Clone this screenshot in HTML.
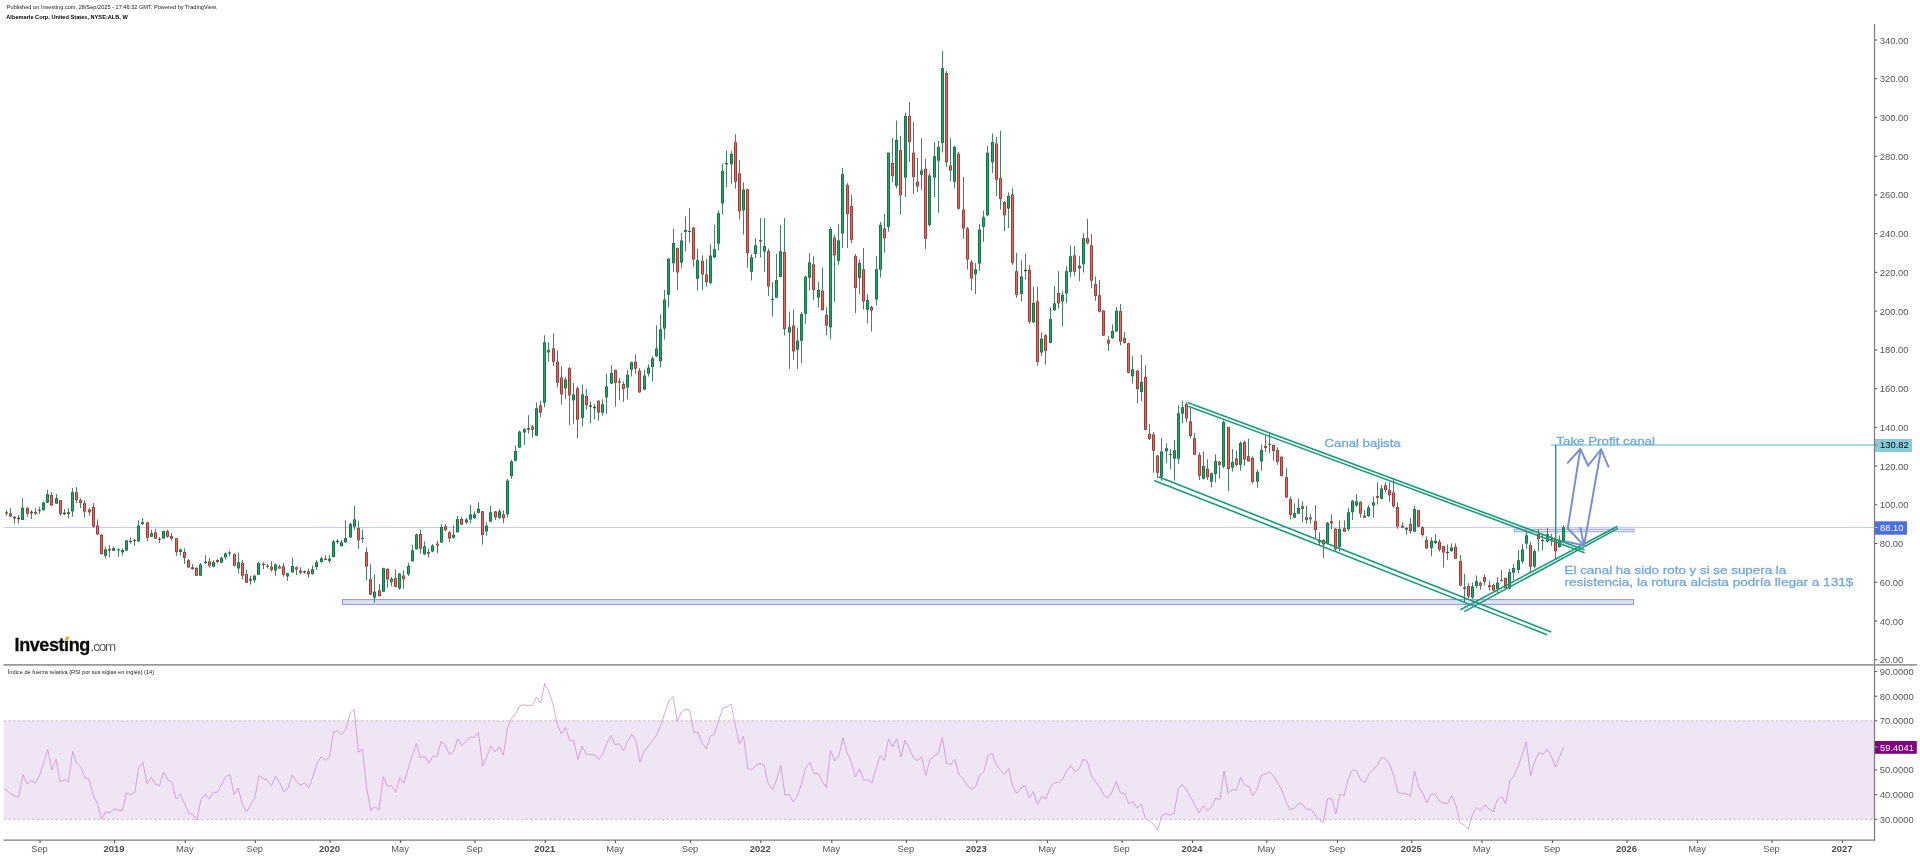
<!DOCTYPE html>
<html><head><meta charset="utf-8"><title>Chart</title>
<style>html,body{margin:0;padding:0;background:#fff;}body{width:1920px;height:858px;overflow:hidden;font-family:"Liberation Sans",sans-serif;}svg{display:block;will-change:transform;}text{font-family:"Liberation Sans",sans-serif;}</style>
</head><body>
<svg width="1920" height="858" viewBox="0 0 1920 858">
<rect x="0" y="0" width="1920" height="858" fill="#ffffff"/>
<g id="rsi-band">
<rect x="4" y="720.8" width="1870" height="98.5" fill="#f0e5f4"/>
<line x1="4" y1="720.9" x2="1874" y2="720.9" stroke="#c6b2ca" stroke-width="1" stroke-dasharray="2.2,2.5"/>
<line x1="4" y1="819.3" x2="1874" y2="819.3" stroke="#c6b2ca" stroke-width="1" stroke-dasharray="2.2,2.5"/>
</g>
<polyline id="rsiline" fill="none" stroke="#cc90cf" stroke-width="0.8" stroke-linejoin="round" points="3.8,788.8 6.3,789.8 10.4,793.7 14.6,796.2 18.7,797.2 22.9,774.6 27.0,784.0 31.2,780.2 35.3,783.2 39.4,775.8 43.6,762.6 47.7,749.6 51.9,769.9 56.0,759.1 60.1,781.6 64.3,779.9 68.4,781.7 72.6,751.7 76.7,763.1 80.9,767.0 85.0,778.4 89.1,779.2 93.3,795.8 97.4,803.5 101.6,819.3 105.7,811.9 109.8,812.8 114.0,808.9 118.1,810.1 122.3,810.7 126.4,792.8 130.6,794.7 134.7,792.6 138.8,767.2 143.0,762.6 147.1,783.9 151.3,777.4 155.4,784.1 159.5,785.7 163.7,772.0 167.8,779.8 172.0,782.3 176.1,798.9 180.3,794.2 184.4,803.5 188.5,812.8 192.7,814.3 196.8,820.2 201.0,799.2 205.1,794.4 209.2,798.9 213.4,792.5 217.5,792.1 221.7,784.2 225.8,776.5 230.0,774.8 234.1,794.4 238.2,788.1 242.4,804.7 246.5,811.9 250.7,805.0 254.8,798.2 258.9,775.9 263.1,778.8 267.2,780.1 271.4,786.1 275.5,776.4 279.7,782.5 283.8,791.8 287.9,788.7 292.1,775.0 296.2,780.6 300.4,785.6 304.5,782.7 308.7,787.8 312.8,776.9 316.9,763.7 321.1,756.7 325.2,759.9 329.4,757.6 333.5,731.6 337.6,730.8 341.8,734.6 345.9,729.1 350.1,713.4 354.2,709.2 358.4,752.4 362.5,749.2 366.6,787.7 370.8,810.7 374.9,806.7 379.1,810.0 383.2,776.8 387.3,786.1 391.5,785.7 395.6,792.4 399.8,777.9 403.9,783.1 408.1,769.2 412.2,755.4 416.3,743.6 420.5,757.8 424.6,756.0 428.8,763.2 432.9,756.3 437.0,756.3 441.2,741.3 445.3,745.0 449.5,754.7 453.6,751.5 457.8,738.9 461.9,745.5 466.0,741.3 470.2,737.2 474.3,737.2 478.5,732.5 482.6,765.9 486.7,757.2 490.9,745.8 495.0,751.8 499.2,746.7 503.3,755.0 507.5,728.0 511.6,718.2 515.7,713.5 519.9,705.8 524.0,704.8 528.2,705.6 532.3,705.6 536.5,697.0 540.6,703.1 544.7,683.5 548.9,691.4 553.0,703.9 557.2,724.0 561.3,733.9 565.4,727.3 569.6,740.5 573.7,740.0 577.9,759.6 582.0,746.0 586.2,753.8 590.3,754.8 594.4,754.8 598.6,759.6 602.7,754.0 606.9,743.0 611.0,735.6 615.1,744.7 619.3,743.7 623.4,750.8 627.6,741.6 631.7,734.4 635.9,740.8 640.0,762.3 644.1,751.1 648.3,746.2 652.4,740.7 656.6,735.1 660.7,725.3 664.8,712.9 669.0,700.4 673.1,696.6 677.3,721.6 681.4,711.9 685.6,709.1 689.7,709.9 693.8,732.1 698.0,732.5 702.1,743.1 706.3,748.6 710.4,736.4 714.5,733.7 718.7,720.3 722.8,708.3 727.0,706.4 731.1,704.1 735.3,725.2 739.4,744.2 743.5,736.1 747.7,768.4 751.8,770.2 756.0,765.0 760.1,763.3 764.2,765.6 768.4,784.3 772.5,789.5 776.7,779.4 780.8,765.5 785.0,795.2 789.1,794.3 793.2,801.9 797.4,796.4 801.5,783.5 805.7,767.7 809.8,762.2 814.0,773.5 818.1,773.5 822.2,781.7 826.4,787.6 830.5,750.5 834.7,760.8 838.8,756.0 842.9,737.8 847.1,752.9 851.2,761.9 855.4,776.9 859.5,769.0 863.7,780.3 867.8,779.7 871.9,782.9 876.1,768.7 880.2,755.5 884.4,760.2 888.5,738.8 892.6,746.9 896.8,738.8 900.9,757.0 905.1,740.1 909.2,747.9 913.4,758.0 917.5,760.7 921.6,756.7 925.8,775.5 929.9,760.0 934.1,755.7 938.2,753.6 942.3,737.5 946.5,762.8 950.6,764.7 954.8,759.5 958.9,774.4 963.1,778.8 967.2,785.5 971.3,789.5 975.5,786.8 979.6,775.4 983.8,772.0 987.9,755.7 992.0,753.2 996.2,764.3 1000.3,769.7 1004.5,774.3 1008.6,768.6 1012.8,786.3 1016.9,793.7 1021.0,787.8 1025.2,785.6 1029.3,798.1 1033.5,791.4 1037.6,804.5 1041.8,796.4 1045.9,799.1 1050.0,787.9 1054.2,782.6 1058.3,782.6 1062.5,779.4 1066.6,770.9 1070.7,765.7 1074.9,771.5 1079.0,769.2 1083.2,759.0 1087.3,761.2 1091.5,776.2 1095.6,781.8 1099.7,787.4 1103.9,795.4 1108.0,798.1 1112.2,791.5 1116.3,781.4 1120.4,792.9 1124.6,793.3 1128.7,803.6 1132.9,801.7 1137.0,808.3 1141.2,803.9 1145.3,818.6 1149.4,821.0 1153.6,824.2 1157.7,829.7 1161.9,815.7 1166.0,813.5 1170.1,815.4 1174.3,812.6 1178.4,788.4 1182.6,784.8 1186.7,790.0 1190.9,797.6 1195.0,805.2 1199.1,812.8 1203.3,805.9 1207.4,810.2 1211.6,807.2 1215.7,798.0 1219.8,799.8 1224.0,771.3 1228.1,793.3 1232.3,789.2 1236.4,790.4 1240.6,777.3 1244.7,785.4 1248.8,786.3 1253.0,795.9 1257.1,789.2 1261.3,775.5 1265.4,774.2 1269.5,771.7 1273.7,776.2 1277.8,782.7 1282.0,790.8 1286.1,801.9 1290.3,809.7 1294.4,808.2 1298.5,803.5 1302.7,804.1 1306.8,809.8 1311.0,809.3 1315.1,815.0 1319.3,820.0 1323.4,822.2 1327.5,798.7 1331.7,798.9 1335.8,813.8 1340.0,794.2 1344.1,795.8 1348.2,778.9 1352.4,770.0 1356.5,770.5 1360.7,779.8 1364.8,782.8 1369.0,773.8 1373.1,769.3 1377.2,765.3 1381.4,757.4 1385.5,759.0 1389.7,764.4 1393.8,775.7 1397.9,792.6 1402.1,793.4 1406.2,793.7 1410.4,796.3 1414.5,771.1 1418.7,786.6 1422.8,793.2 1426.9,802.7 1431.1,794.1 1435.2,794.1 1439.4,801.1 1443.5,803.1 1447.6,803.6 1451.8,795.7 1455.9,805.3 1460.1,823.0 1464.2,824.8 1468.4,829.0 1472.5,814.7 1476.6,807.5 1480.8,810.8 1484.9,805.0 1489.1,809.1 1493.2,811.9 1497.3,799.8 1501.5,796.3 1505.6,803.7 1509.8,781.1 1513.9,775.8 1518.1,766.4 1522.2,754.7 1526.3,741.8 1530.5,775.7 1534.6,762.0 1538.8,752.6 1542.9,754.6 1547.0,749.0 1551.2,755.8 1555.3,767.0 1559.5,757.0 1563.6,746.8"/>
<line x1="4" y1="527.5" x2="1874" y2="527.5" stroke="#c4ccf5" stroke-width="1"/>
<rect x="342.5" y="599.6" width="1291" height="4.8" fill="#dfe2f4" stroke="#8e99d8" stroke-width="1"/>
<rect x="1514.5" y="529.2" width="119.5" height="2.6" fill="#e6e8f7" stroke="#8e99d8" stroke-width="0.9" id="resrect"/>
<g id="candles">
<line x1="6.50" y1="510.2" x2="6.50" y2="515.8" stroke="#487f65" stroke-width="1"/>
<rect x="5.05" y="512.3" width="2.9" height="1.2" fill="#87302c"/>
<line x1="10.50" y1="508.1" x2="10.50" y2="516.6" stroke="#487f65" stroke-width="1"/>
<rect x="9.05" y="513.3" width="2.9" height="3.3" fill="#87302c"/>
<rect x="9.90" y="513.8" width="1.3" height="2.3" fill="#e8665b"/>
<line x1="14.50" y1="516.1" x2="14.50" y2="523.6" stroke="#487f65" stroke-width="1"/>
<rect x="13.05" y="516.8" width="2.9" height="1.6" fill="#87302c"/>
<line x1="18.50" y1="515.2" x2="18.50" y2="523.6" stroke="#487f65" stroke-width="1"/>
<rect x="17.05" y="517.7" width="2.9" height="1.5" fill="#87302c"/>
<line x1="22.50" y1="498.3" x2="22.50" y2="519.8" stroke="#487f65" stroke-width="1"/>
<rect x="21.05" y="507.7" width="2.9" height="12.2" fill="#0b663b"/>
<rect x="21.90" y="508.2" width="1.3" height="11.2" fill="#1fa565"/>
<line x1="27.50" y1="507.2" x2="27.50" y2="516.7" stroke="#487f65" stroke-width="1"/>
<rect x="26.05" y="508.1" width="2.9" height="5.6" fill="#87302c"/>
<rect x="26.90" y="508.6" width="1.3" height="4.6" fill="#e8665b"/>
<line x1="31.50" y1="510.2" x2="31.50" y2="518.9" stroke="#487f65" stroke-width="1"/>
<rect x="30.05" y="511.7" width="2.9" height="1.6" fill="#0b663b"/>
<line x1="35.50" y1="508.1" x2="35.50" y2="514.9" stroke="#487f65" stroke-width="1"/>
<rect x="34.05" y="511.9" width="2.9" height="1.7" fill="#87302c"/>
<rect x="34.90" y="512.4" width="1.3" height="0.7" fill="#e8665b"/>
<line x1="39.50" y1="507.2" x2="39.50" y2="514.2" stroke="#487f65" stroke-width="1"/>
<rect x="38.05" y="509.8" width="2.9" height="1.0" fill="#0b663b"/>
<line x1="43.50" y1="501.6" x2="43.50" y2="510.7" stroke="#487f65" stroke-width="1"/>
<rect x="42.05" y="502.5" width="2.9" height="7.5" fill="#0b663b"/>
<rect x="42.90" y="503.0" width="1.3" height="6.5" fill="#1fa565"/>
<line x1="47.50" y1="489.6" x2="47.50" y2="503.0" stroke="#487f65" stroke-width="1"/>
<rect x="46.05" y="494.1" width="2.9" height="8.6" fill="#0b663b"/>
<rect x="46.90" y="494.6" width="1.3" height="7.6" fill="#1fa565"/>
<line x1="51.50" y1="492.2" x2="51.50" y2="505.8" stroke="#487f65" stroke-width="1"/>
<rect x="50.05" y="495.0" width="2.9" height="10.5" fill="#87302c"/>
<rect x="50.90" y="495.5" width="1.3" height="9.5" fill="#e8665b"/>
<line x1="56.50" y1="494.1" x2="56.50" y2="503.9" stroke="#487f65" stroke-width="1"/>
<rect x="55.05" y="498.3" width="2.9" height="5.3" fill="#0b663b"/>
<rect x="55.90" y="498.8" width="1.3" height="4.3" fill="#1fa565"/>
<line x1="60.50" y1="500.2" x2="60.50" y2="515.8" stroke="#487f65" stroke-width="1"/>
<rect x="59.05" y="500.2" width="2.9" height="13.6" fill="#87302c"/>
<rect x="59.90" y="500.7" width="1.3" height="12.6" fill="#e8665b"/>
<line x1="64.50" y1="509.2" x2="64.50" y2="514.9" stroke="#487f65" stroke-width="1"/>
<rect x="63.05" y="512.6" width="2.9" height="1.6" fill="#0b663b"/>
<line x1="68.50" y1="508.3" x2="68.50" y2="518.4" stroke="#487f65" stroke-width="1"/>
<rect x="67.05" y="512.1" width="2.9" height="1.9" fill="#87302c"/>
<rect x="67.90" y="512.6" width="1.3" height="0.9" fill="#e8665b"/>
<line x1="72.50" y1="488.0" x2="72.50" y2="516.7" stroke="#487f65" stroke-width="1"/>
<rect x="71.05" y="492.2" width="2.9" height="19.2" fill="#0b663b"/>
<rect x="71.90" y="492.7" width="1.3" height="18.2" fill="#1fa565"/>
<line x1="76.50" y1="487.0" x2="76.50" y2="503.0" stroke="#487f65" stroke-width="1"/>
<rect x="75.05" y="492.2" width="2.9" height="8.0" fill="#87302c"/>
<rect x="75.90" y="492.7" width="1.3" height="7.0" fill="#e8665b"/>
<line x1="80.50" y1="498.3" x2="80.50" y2="508.1" stroke="#487f65" stroke-width="1"/>
<rect x="79.05" y="500.2" width="2.9" height="2.8" fill="#87302c"/>
<rect x="79.90" y="500.7" width="1.3" height="1.8" fill="#e8665b"/>
<line x1="84.50" y1="500.2" x2="84.50" y2="517.5" stroke="#487f65" stroke-width="1"/>
<rect x="83.05" y="503.2" width="2.9" height="8.4" fill="#87302c"/>
<rect x="83.90" y="503.7" width="1.3" height="7.4" fill="#e8665b"/>
<line x1="89.50" y1="508.1" x2="89.50" y2="515.6" stroke="#487f65" stroke-width="1"/>
<rect x="88.05" y="509.5" width="2.9" height="2.8" fill="#87302c"/>
<rect x="88.90" y="510.0" width="1.3" height="1.8" fill="#e8665b"/>
<line x1="93.50" y1="503.0" x2="93.50" y2="527.8" stroke="#487f65" stroke-width="1"/>
<rect x="92.05" y="507.0" width="2.9" height="19.6" fill="#87302c"/>
<rect x="92.90" y="507.5" width="1.3" height="18.6" fill="#e8665b"/>
<line x1="97.50" y1="519.4" x2="97.50" y2="535.1" stroke="#487f65" stroke-width="1"/>
<rect x="96.05" y="525.5" width="2.9" height="8.9" fill="#87302c"/>
<rect x="96.90" y="526.0" width="1.3" height="7.9" fill="#e8665b"/>
<line x1="101.50" y1="534.2" x2="101.50" y2="554.5" stroke="#487f65" stroke-width="1"/>
<rect x="100.05" y="534.8" width="2.9" height="19.2" fill="#87302c"/>
<rect x="100.90" y="535.3" width="1.3" height="18.2" fill="#e8665b"/>
<line x1="105.50" y1="546.6" x2="105.50" y2="558.3" stroke="#487f65" stroke-width="1"/>
<rect x="104.05" y="549.4" width="2.9" height="6.4" fill="#0b663b"/>
<rect x="104.90" y="549.9" width="1.3" height="5.4" fill="#1fa565"/>
<line x1="109.50" y1="545.2" x2="109.50" y2="557.6" stroke="#487f65" stroke-width="1"/>
<rect x="108.05" y="549.2" width="2.9" height="1.3" fill="#87302c"/>
<line x1="113.50" y1="546.4" x2="113.50" y2="551.2" stroke="#487f65" stroke-width="1"/>
<rect x="112.05" y="548.2" width="2.9" height="2.5" fill="#0b663b"/>
<rect x="112.90" y="548.7" width="1.3" height="1.5" fill="#1fa565"/>
<line x1="118.50" y1="548.2" x2="118.50" y2="556.9" stroke="#487f65" stroke-width="1"/>
<rect x="117.05" y="549.4" width="2.9" height="1.0" fill="#0b663b"/>
<line x1="122.50" y1="548.2" x2="122.50" y2="555.7" stroke="#487f65" stroke-width="1"/>
<rect x="121.05" y="550.1" width="2.9" height="2.2" fill="#0b663b"/>
<rect x="121.90" y="550.6" width="1.3" height="1.2" fill="#1fa565"/>
<line x1="126.50" y1="539.8" x2="126.50" y2="550.8" stroke="#487f65" stroke-width="1"/>
<rect x="125.05" y="540.5" width="2.9" height="10.0" fill="#0b663b"/>
<rect x="125.90" y="541.0" width="1.3" height="9.0" fill="#1fa565"/>
<line x1="130.50" y1="537.2" x2="130.50" y2="543.7" stroke="#487f65" stroke-width="1"/>
<rect x="129.05" y="540.9" width="2.9" height="1.1" fill="#87302c"/>
<line x1="134.50" y1="538.9" x2="134.50" y2="545.6" stroke="#487f65" stroke-width="1"/>
<rect x="133.05" y="539.8" width="2.9" height="1.1" fill="#87302c"/>
<line x1="138.50" y1="520.3" x2="138.50" y2="542.1" stroke="#487f65" stroke-width="1"/>
<rect x="137.05" y="525.5" width="2.9" height="15.9" fill="#0b663b"/>
<rect x="137.90" y="526.0" width="1.3" height="14.9" fill="#1fa565"/>
<line x1="142.50" y1="518.0" x2="142.50" y2="524.8" stroke="#487f65" stroke-width="1"/>
<rect x="141.05" y="522.2" width="2.9" height="1.9" fill="#0b663b"/>
<rect x="141.90" y="522.7" width="1.3" height="0.9" fill="#1fa565"/>
<line x1="147.50" y1="522.0" x2="147.50" y2="541.4" stroke="#487f65" stroke-width="1"/>
<rect x="146.05" y="522.4" width="2.9" height="15.3" fill="#87302c"/>
<rect x="146.90" y="522.9" width="1.3" height="14.3" fill="#e8665b"/>
<line x1="151.50" y1="529.7" x2="151.50" y2="537.2" stroke="#487f65" stroke-width="1"/>
<rect x="150.05" y="533.2" width="2.9" height="3.5" fill="#0b663b"/>
<rect x="150.90" y="533.7" width="1.3" height="2.5" fill="#1fa565"/>
<line x1="155.50" y1="528.9" x2="155.50" y2="538.9" stroke="#487f65" stroke-width="1"/>
<rect x="154.05" y="532.5" width="2.9" height="6.1" fill="#87302c"/>
<rect x="154.90" y="533.0" width="1.3" height="5.1" fill="#e8665b"/>
<line x1="159.50" y1="537.0" x2="159.50" y2="543.0" stroke="#487f65" stroke-width="1"/>
<rect x="158.05" y="538.8" width="2.9" height="1.0" fill="#87302c"/>
<line x1="163.50" y1="530.6" x2="163.50" y2="538.9" stroke="#487f65" stroke-width="1"/>
<rect x="162.05" y="531.1" width="2.9" height="7.5" fill="#0b663b"/>
<rect x="162.90" y="531.6" width="1.3" height="6.5" fill="#1fa565"/>
<line x1="167.50" y1="529.7" x2="167.50" y2="537.7" stroke="#487f65" stroke-width="1"/>
<rect x="166.05" y="531.1" width="2.9" height="5.6" fill="#87302c"/>
<rect x="166.90" y="531.6" width="1.3" height="4.6" fill="#e8665b"/>
<line x1="171.50" y1="533.0" x2="171.50" y2="540.7" stroke="#487f65" stroke-width="1"/>
<rect x="170.05" y="536.1" width="2.9" height="2.5" fill="#87302c"/>
<rect x="170.90" y="536.6" width="1.3" height="1.5" fill="#e8665b"/>
<line x1="176.50" y1="537.9" x2="176.50" y2="555.7" stroke="#487f65" stroke-width="1"/>
<rect x="175.05" y="538.3" width="2.9" height="13.9" fill="#87302c"/>
<rect x="175.90" y="538.8" width="1.3" height="12.9" fill="#e8665b"/>
<line x1="180.50" y1="548.6" x2="180.50" y2="555.3" stroke="#487f65" stroke-width="1"/>
<rect x="179.05" y="549.5" width="2.9" height="2.5" fill="#0b663b"/>
<rect x="179.90" y="550.0" width="1.3" height="1.5" fill="#1fa565"/>
<line x1="184.50" y1="548.3" x2="184.50" y2="563.9" stroke="#487f65" stroke-width="1"/>
<rect x="183.05" y="552.0" width="2.9" height="5.9" fill="#87302c"/>
<rect x="183.90" y="552.5" width="1.3" height="4.9" fill="#e8665b"/>
<line x1="188.50" y1="559.2" x2="188.50" y2="567.7" stroke="#487f65" stroke-width="1"/>
<rect x="187.05" y="560.2" width="2.9" height="7.3" fill="#87302c"/>
<rect x="187.90" y="560.7" width="1.3" height="6.3" fill="#e8665b"/>
<line x1="192.50" y1="563.9" x2="192.50" y2="569.8" stroke="#487f65" stroke-width="1"/>
<rect x="191.05" y="567.3" width="2.9" height="1.9" fill="#87302c"/>
<rect x="191.90" y="567.8" width="1.3" height="0.9" fill="#e8665b"/>
<line x1="196.50" y1="567.0" x2="196.50" y2="575.9" stroke="#487f65" stroke-width="1"/>
<rect x="195.05" y="568.0" width="2.9" height="7.8" fill="#87302c"/>
<rect x="195.90" y="568.5" width="1.3" height="6.8" fill="#e8665b"/>
<line x1="200.50" y1="563.0" x2="200.50" y2="575.9" stroke="#487f65" stroke-width="1"/>
<rect x="199.05" y="564.5" width="2.9" height="11.2" fill="#0b663b"/>
<rect x="199.90" y="565.0" width="1.3" height="10.2" fill="#1fa565"/>
<line x1="205.50" y1="555.1" x2="205.50" y2="563.6" stroke="#487f65" stroke-width="1"/>
<rect x="204.05" y="561.7" width="2.9" height="1.6" fill="#0b663b"/>
<line x1="209.50" y1="557.7" x2="209.50" y2="567.5" stroke="#487f65" stroke-width="1"/>
<rect x="208.05" y="561.4" width="2.9" height="4.2" fill="#87302c"/>
<rect x="208.90" y="561.9" width="1.3" height="3.2" fill="#e8665b"/>
<line x1="213.50" y1="560.2" x2="213.50" y2="566.7" stroke="#487f65" stroke-width="1"/>
<rect x="212.05" y="562.1" width="2.9" height="4.5" fill="#0b663b"/>
<rect x="212.90" y="562.6" width="1.3" height="3.5" fill="#1fa565"/>
<line x1="217.50" y1="559.1" x2="217.50" y2="563.3" stroke="#487f65" stroke-width="1"/>
<rect x="216.05" y="560.0" width="2.9" height="1.9" fill="#87302c"/>
<rect x="216.90" y="560.5" width="1.3" height="0.9" fill="#e8665b"/>
<line x1="221.50" y1="556.7" x2="221.50" y2="563.3" stroke="#487f65" stroke-width="1"/>
<rect x="220.05" y="557.7" width="2.9" height="5.0" fill="#0b663b"/>
<rect x="220.90" y="558.2" width="1.3" height="4.0" fill="#1fa565"/>
<line x1="225.50" y1="552.5" x2="225.50" y2="559.5" stroke="#487f65" stroke-width="1"/>
<rect x="224.05" y="553.4" width="2.9" height="3.9" fill="#0b663b"/>
<rect x="224.90" y="553.9" width="1.3" height="2.9" fill="#1fa565"/>
<line x1="229.50" y1="550.8" x2="229.50" y2="556.4" stroke="#487f65" stroke-width="1"/>
<rect x="228.05" y="552.5" width="2.9" height="1.0" fill="#0b663b"/>
<line x1="234.50" y1="553.2" x2="234.50" y2="566.6" stroke="#487f65" stroke-width="1"/>
<rect x="233.05" y="554.2" width="2.9" height="11.4" fill="#87302c"/>
<rect x="233.90" y="554.7" width="1.3" height="10.4" fill="#e8665b"/>
<line x1="238.50" y1="552.5" x2="238.50" y2="573.6" stroke="#487f65" stroke-width="1"/>
<rect x="237.05" y="562.3" width="2.9" height="6.1" fill="#0b663b"/>
<rect x="237.90" y="562.8" width="1.3" height="5.1" fill="#1fa565"/>
<line x1="242.50" y1="560.2" x2="242.50" y2="579.5" stroke="#487f65" stroke-width="1"/>
<rect x="241.05" y="562.8" width="2.9" height="12.9" fill="#87302c"/>
<rect x="241.90" y="563.3" width="1.3" height="11.9" fill="#e8665b"/>
<line x1="246.50" y1="569.4" x2="246.50" y2="583.0" stroke="#487f65" stroke-width="1"/>
<rect x="245.05" y="574.1" width="2.9" height="8.6" fill="#87302c"/>
<rect x="245.90" y="574.6" width="1.3" height="7.6" fill="#e8665b"/>
<line x1="250.50" y1="575.7" x2="250.50" y2="584.6" stroke="#487f65" stroke-width="1"/>
<rect x="249.05" y="579.2" width="2.9" height="1.4" fill="#0b663b"/>
<line x1="254.50" y1="574.8" x2="254.50" y2="582.7" stroke="#487f65" stroke-width="1"/>
<rect x="253.05" y="575.7" width="2.9" height="4.4" fill="#0b663b"/>
<rect x="253.90" y="576.2" width="1.3" height="3.4" fill="#1fa565"/>
<line x1="258.50" y1="562.1" x2="258.50" y2="575.2" stroke="#487f65" stroke-width="1"/>
<rect x="257.05" y="562.8" width="2.9" height="12.0" fill="#0b663b"/>
<rect x="257.90" y="563.3" width="1.3" height="11.0" fill="#1fa565"/>
<line x1="263.50" y1="562.1" x2="263.50" y2="569.2" stroke="#487f65" stroke-width="1"/>
<rect x="262.05" y="564.0" width="2.9" height="1.0" fill="#87302c"/>
<line x1="267.50" y1="563.7" x2="267.50" y2="568.4" stroke="#487f65" stroke-width="1"/>
<rect x="266.05" y="565.7" width="2.9" height="1.0" fill="#0b663b"/>
<line x1="271.50" y1="561.1" x2="271.50" y2="571.7" stroke="#487f65" stroke-width="1"/>
<rect x="270.05" y="566.6" width="2.9" height="3.3" fill="#87302c"/>
<rect x="270.90" y="567.1" width="1.3" height="2.3" fill="#e8665b"/>
<line x1="275.50" y1="563.6" x2="275.50" y2="575.7" stroke="#487f65" stroke-width="1"/>
<rect x="274.05" y="564.5" width="2.9" height="6.0" fill="#0b663b"/>
<rect x="274.90" y="565.0" width="1.3" height="5.0" fill="#1fa565"/>
<line x1="279.50" y1="564.7" x2="279.50" y2="568.6" stroke="#487f65" stroke-width="1"/>
<rect x="278.05" y="566.6" width="2.9" height="1.9" fill="#87302c"/>
<rect x="278.90" y="567.1" width="1.3" height="0.9" fill="#e8665b"/>
<line x1="283.50" y1="563.0" x2="283.50" y2="576.7" stroke="#487f65" stroke-width="1"/>
<rect x="282.05" y="566.4" width="2.9" height="8.4" fill="#87302c"/>
<rect x="282.90" y="566.9" width="1.3" height="7.4" fill="#e8665b"/>
<line x1="287.50" y1="572.7" x2="287.50" y2="580.8" stroke="#487f65" stroke-width="1"/>
<rect x="286.05" y="573.3" width="2.9" height="3.1" fill="#0b663b"/>
<rect x="286.90" y="573.8" width="1.3" height="2.1" fill="#1fa565"/>
<line x1="292.50" y1="557.7" x2="292.50" y2="572.7" stroke="#487f65" stroke-width="1"/>
<rect x="291.05" y="566.1" width="2.9" height="6.3" fill="#0b663b"/>
<rect x="291.90" y="566.6" width="1.3" height="5.3" fill="#1fa565"/>
<line x1="296.50" y1="566.4" x2="296.50" y2="575.0" stroke="#487f65" stroke-width="1"/>
<rect x="295.05" y="567.3" width="2.9" height="2.2" fill="#87302c"/>
<rect x="295.90" y="567.8" width="1.3" height="1.2" fill="#e8665b"/>
<line x1="300.50" y1="567.3" x2="300.50" y2="574.2" stroke="#487f65" stroke-width="1"/>
<rect x="299.05" y="570.5" width="2.9" height="2.2" fill="#87302c"/>
<rect x="299.90" y="571.0" width="1.3" height="1.2" fill="#e8665b"/>
<line x1="304.50" y1="570.5" x2="304.50" y2="573.6" stroke="#487f65" stroke-width="1"/>
<rect x="303.05" y="571.2" width="2.9" height="1.4" fill="#0b663b"/>
<line x1="308.50" y1="568.6" x2="308.50" y2="577.6" stroke="#487f65" stroke-width="1"/>
<rect x="307.05" y="571.4" width="2.9" height="2.8" fill="#87302c"/>
<rect x="307.90" y="571.9" width="1.3" height="1.8" fill="#e8665b"/>
<line x1="312.50" y1="565.4" x2="312.50" y2="574.5" stroke="#487f65" stroke-width="1"/>
<rect x="311.05" y="569.2" width="2.9" height="4.9" fill="#0b663b"/>
<rect x="311.90" y="569.7" width="1.3" height="3.9" fill="#1fa565"/>
<line x1="316.50" y1="560.2" x2="316.50" y2="569.8" stroke="#487f65" stroke-width="1"/>
<rect x="315.05" y="562.3" width="2.9" height="4.7" fill="#0b663b"/>
<rect x="315.90" y="562.8" width="1.3" height="3.7" fill="#1fa565"/>
<line x1="321.50" y1="556.7" x2="321.50" y2="562.6" stroke="#487f65" stroke-width="1"/>
<rect x="320.05" y="558.3" width="2.9" height="3.7" fill="#0b663b"/>
<rect x="320.90" y="558.8" width="1.3" height="2.7" fill="#1fa565"/>
<line x1="325.50" y1="555.3" x2="325.50" y2="560.0" stroke="#487f65" stroke-width="1"/>
<rect x="324.05" y="558.6" width="2.9" height="1.2" fill="#87302c"/>
<line x1="329.50" y1="555.3" x2="329.50" y2="563.0" stroke="#487f65" stroke-width="1"/>
<rect x="328.05" y="558.6" width="2.9" height="2.2" fill="#0b663b"/>
<rect x="328.90" y="559.1" width="1.3" height="1.2" fill="#1fa565"/>
<line x1="333.50" y1="539.8" x2="333.50" y2="557.4" stroke="#487f65" stroke-width="1"/>
<rect x="332.05" y="541.4" width="2.9" height="15.7" fill="#0b663b"/>
<rect x="332.90" y="541.9" width="1.3" height="14.7" fill="#1fa565"/>
<line x1="337.50" y1="539.1" x2="337.50" y2="543.6" stroke="#487f65" stroke-width="1"/>
<rect x="336.05" y="540.8" width="2.9" height="1.3" fill="#0b663b"/>
<line x1="341.50" y1="540.0" x2="341.50" y2="546.4" stroke="#487f65" stroke-width="1"/>
<rect x="340.05" y="542.3" width="2.9" height="3.8" fill="#0b663b"/>
<rect x="340.90" y="542.8" width="1.3" height="2.8" fill="#1fa565"/>
<line x1="345.50" y1="520.3" x2="345.50" y2="542.9" stroke="#487f65" stroke-width="1"/>
<rect x="344.05" y="538.2" width="2.9" height="4.1" fill="#0b663b"/>
<rect x="344.90" y="538.7" width="1.3" height="3.1" fill="#1fa565"/>
<line x1="350.50" y1="522.8" x2="350.50" y2="537.8" stroke="#487f65" stroke-width="1"/>
<rect x="349.05" y="524.1" width="2.9" height="13.3" fill="#0b663b"/>
<rect x="349.90" y="524.6" width="1.3" height="12.3" fill="#1fa565"/>
<line x1="354.50" y1="505.8" x2="354.50" y2="530.1" stroke="#487f65" stroke-width="1"/>
<rect x="353.05" y="519.5" width="2.9" height="7.2" fill="#0b663b"/>
<rect x="353.90" y="520.0" width="1.3" height="6.2" fill="#1fa565"/>
<line x1="358.50" y1="521.2" x2="358.50" y2="548.7" stroke="#487f65" stroke-width="1"/>
<rect x="357.05" y="527.9" width="2.9" height="12.4" fill="#87302c"/>
<rect x="357.90" y="528.4" width="1.3" height="11.4" fill="#e8665b"/>
<line x1="362.50" y1="529.7" x2="362.50" y2="542.9" stroke="#487f65" stroke-width="1"/>
<rect x="361.05" y="537.8" width="2.9" height="1.0" fill="#0b663b"/>
<line x1="366.50" y1="547.4" x2="366.50" y2="580.5" stroke="#487f65" stroke-width="1"/>
<rect x="365.05" y="551.9" width="2.9" height="14.7" fill="#87302c"/>
<rect x="365.90" y="552.4" width="1.3" height="13.7" fill="#e8665b"/>
<line x1="370.50" y1="564.4" x2="370.50" y2="594.9" stroke="#487f65" stroke-width="1"/>
<rect x="369.05" y="579.2" width="2.9" height="15.4" fill="#87302c"/>
<rect x="369.90" y="579.7" width="1.3" height="14.4" fill="#e8665b"/>
<line x1="374.50" y1="574.4" x2="374.50" y2="602.8" stroke="#487f65" stroke-width="1"/>
<rect x="373.05" y="591.7" width="2.9" height="5.8" fill="#0b663b"/>
<rect x="373.90" y="592.2" width="1.3" height="4.8" fill="#1fa565"/>
<line x1="379.50" y1="584.0" x2="379.50" y2="596.4" stroke="#487f65" stroke-width="1"/>
<rect x="378.05" y="590.4" width="2.9" height="5.8" fill="#87302c"/>
<rect x="378.90" y="590.9" width="1.3" height="4.8" fill="#e8665b"/>
<line x1="383.50" y1="567.7" x2="383.50" y2="592.1" stroke="#487f65" stroke-width="1"/>
<rect x="382.05" y="568.2" width="2.9" height="23.5" fill="#0b663b"/>
<rect x="382.90" y="568.7" width="1.3" height="22.5" fill="#1fa565"/>
<line x1="387.50" y1="567.9" x2="387.50" y2="587.8" stroke="#487f65" stroke-width="1"/>
<rect x="386.05" y="569.0" width="2.9" height="10.3" fill="#87302c"/>
<rect x="386.90" y="569.5" width="1.3" height="9.3" fill="#e8665b"/>
<line x1="391.50" y1="576.9" x2="391.50" y2="586.2" stroke="#487f65" stroke-width="1"/>
<rect x="390.05" y="578.8" width="2.9" height="3.2" fill="#0b663b"/>
<rect x="390.90" y="579.3" width="1.3" height="2.2" fill="#1fa565"/>
<line x1="395.50" y1="569.5" x2="395.50" y2="587.2" stroke="#487f65" stroke-width="1"/>
<rect x="394.05" y="578.2" width="2.9" height="8.7" fill="#87302c"/>
<rect x="394.90" y="578.7" width="1.3" height="7.7" fill="#e8665b"/>
<line x1="399.50" y1="572.8" x2="399.50" y2="589.7" stroke="#487f65" stroke-width="1"/>
<rect x="398.05" y="573.7" width="2.9" height="14.7" fill="#0b663b"/>
<rect x="398.90" y="574.2" width="1.3" height="13.7" fill="#1fa565"/>
<line x1="403.50" y1="570.3" x2="403.50" y2="588.7" stroke="#487f65" stroke-width="1"/>
<rect x="402.05" y="575.6" width="2.9" height="3.8" fill="#87302c"/>
<rect x="402.90" y="576.1" width="1.3" height="2.8" fill="#e8665b"/>
<line x1="408.50" y1="562.8" x2="408.50" y2="575.9" stroke="#487f65" stroke-width="1"/>
<rect x="407.05" y="566.0" width="2.9" height="8.3" fill="#0b663b"/>
<rect x="407.90" y="566.5" width="1.3" height="7.3" fill="#1fa565"/>
<line x1="412.50" y1="544.9" x2="412.50" y2="561.5" stroke="#487f65" stroke-width="1"/>
<rect x="411.05" y="550.3" width="2.9" height="11.0" fill="#0b663b"/>
<rect x="411.90" y="550.8" width="1.3" height="10.0" fill="#1fa565"/>
<line x1="416.50" y1="533.6" x2="416.50" y2="549.7" stroke="#487f65" stroke-width="1"/>
<rect x="415.05" y="534.6" width="2.9" height="14.7" fill="#0b663b"/>
<rect x="415.90" y="535.1" width="1.3" height="13.7" fill="#1fa565"/>
<line x1="420.50" y1="529.7" x2="420.50" y2="553.8" stroke="#487f65" stroke-width="1"/>
<rect x="419.05" y="534.0" width="2.9" height="14.7" fill="#87302c"/>
<rect x="419.90" y="534.5" width="1.3" height="13.7" fill="#e8665b"/>
<line x1="424.50" y1="541.3" x2="424.50" y2="554.9" stroke="#487f65" stroke-width="1"/>
<rect x="423.05" y="546.4" width="2.9" height="8.1" fill="#0b663b"/>
<rect x="423.90" y="546.9" width="1.3" height="7.1" fill="#1fa565"/>
<line x1="428.50" y1="548.5" x2="428.50" y2="557.7" stroke="#487f65" stroke-width="1"/>
<rect x="427.05" y="551.9" width="2.9" height="1.7" fill="#87302c"/>
<rect x="427.90" y="552.4" width="1.3" height="0.7" fill="#e8665b"/>
<line x1="432.50" y1="544.2" x2="432.50" y2="552.3" stroke="#487f65" stroke-width="1"/>
<rect x="431.05" y="545.5" width="2.9" height="6.0" fill="#0b663b"/>
<rect x="431.90" y="546.0" width="1.3" height="5.0" fill="#1fa565"/>
<line x1="437.50" y1="540.8" x2="437.50" y2="553.2" stroke="#487f65" stroke-width="1"/>
<rect x="436.05" y="543.6" width="2.9" height="1.9" fill="#87302c"/>
<rect x="436.90" y="544.1" width="1.3" height="0.9" fill="#e8665b"/>
<line x1="441.50" y1="524.1" x2="441.50" y2="542.9" stroke="#487f65" stroke-width="1"/>
<rect x="440.05" y="526.9" width="2.9" height="15.6" fill="#0b663b"/>
<rect x="440.90" y="527.4" width="1.3" height="14.6" fill="#1fa565"/>
<line x1="445.50" y1="524.1" x2="445.50" y2="531.0" stroke="#487f65" stroke-width="1"/>
<rect x="444.05" y="526.3" width="2.9" height="3.8" fill="#87302c"/>
<rect x="444.90" y="526.8" width="1.3" height="2.8" fill="#e8665b"/>
<line x1="449.50" y1="531.0" x2="449.50" y2="542.1" stroke="#487f65" stroke-width="1"/>
<rect x="448.05" y="532.3" width="2.9" height="6.2" fill="#87302c"/>
<rect x="448.90" y="532.8" width="1.3" height="5.2" fill="#e8665b"/>
<line x1="453.50" y1="525.4" x2="453.50" y2="538.5" stroke="#487f65" stroke-width="1"/>
<rect x="452.05" y="534.9" width="2.9" height="2.9" fill="#0b663b"/>
<rect x="452.90" y="535.4" width="1.3" height="1.9" fill="#1fa565"/>
<line x1="457.50" y1="516.0" x2="457.50" y2="532.7" stroke="#487f65" stroke-width="1"/>
<rect x="456.05" y="519.2" width="2.9" height="13.1" fill="#0b663b"/>
<rect x="456.90" y="519.7" width="1.3" height="12.1" fill="#1fa565"/>
<line x1="461.50" y1="516.7" x2="461.50" y2="525.0" stroke="#487f65" stroke-width="1"/>
<rect x="460.05" y="519.0" width="2.9" height="5.6" fill="#87302c"/>
<rect x="460.90" y="519.5" width="1.3" height="4.6" fill="#e8665b"/>
<line x1="466.50" y1="518.2" x2="466.50" y2="524.1" stroke="#487f65" stroke-width="1"/>
<rect x="465.05" y="519.5" width="2.9" height="2.9" fill="#0b663b"/>
<rect x="465.90" y="520.0" width="1.3" height="1.9" fill="#1fa565"/>
<line x1="470.50" y1="505.1" x2="470.50" y2="523.3" stroke="#487f65" stroke-width="1"/>
<rect x="469.05" y="514.4" width="2.9" height="5.1" fill="#0b663b"/>
<rect x="469.90" y="514.9" width="1.3" height="4.1" fill="#1fa565"/>
<line x1="474.50" y1="511.3" x2="474.50" y2="519.2" stroke="#487f65" stroke-width="1"/>
<rect x="473.05" y="514.4" width="2.9" height="3.6" fill="#0b663b"/>
<rect x="473.90" y="514.9" width="1.3" height="2.6" fill="#1fa565"/>
<line x1="478.50" y1="502.3" x2="478.50" y2="513.1" stroke="#487f65" stroke-width="1"/>
<rect x="477.05" y="508.7" width="2.9" height="4.1" fill="#0b663b"/>
<rect x="477.90" y="509.2" width="1.3" height="3.1" fill="#1fa565"/>
<line x1="482.50" y1="510.9" x2="482.50" y2="544.6" stroke="#487f65" stroke-width="1"/>
<rect x="481.05" y="511.3" width="2.9" height="23.6" fill="#87302c"/>
<rect x="481.90" y="511.8" width="1.3" height="22.6" fill="#e8665b"/>
<line x1="486.50" y1="522.1" x2="486.50" y2="535.3" stroke="#487f65" stroke-width="1"/>
<rect x="485.05" y="525.6" width="2.9" height="5.8" fill="#0b663b"/>
<rect x="485.90" y="526.1" width="1.3" height="4.8" fill="#1fa565"/>
<line x1="490.50" y1="505.8" x2="490.50" y2="521.8" stroke="#487f65" stroke-width="1"/>
<rect x="489.05" y="512.2" width="2.9" height="9.4" fill="#0b663b"/>
<rect x="489.90" y="512.7" width="1.3" height="8.4" fill="#1fa565"/>
<line x1="495.50" y1="510.9" x2="495.50" y2="519.9" stroke="#487f65" stroke-width="1"/>
<rect x="494.05" y="511.5" width="2.9" height="5.8" fill="#87302c"/>
<rect x="494.90" y="512.0" width="1.3" height="4.8" fill="#e8665b"/>
<line x1="499.50" y1="509.0" x2="499.50" y2="519.2" stroke="#487f65" stroke-width="1"/>
<rect x="498.05" y="511.3" width="2.9" height="6.4" fill="#0b663b"/>
<rect x="498.90" y="511.8" width="1.3" height="5.4" fill="#1fa565"/>
<line x1="503.50" y1="510.3" x2="503.50" y2="523.3" stroke="#487f65" stroke-width="1"/>
<rect x="502.05" y="514.4" width="2.9" height="3.8" fill="#87302c"/>
<rect x="502.90" y="514.9" width="1.3" height="2.8" fill="#e8665b"/>
<line x1="507.50" y1="478.7" x2="507.50" y2="517.7" stroke="#487f65" stroke-width="1"/>
<rect x="506.05" y="480.6" width="2.9" height="33.8" fill="#0b663b"/>
<rect x="506.90" y="481.1" width="1.3" height="32.8" fill="#1fa565"/>
<line x1="511.50" y1="459.8" x2="511.50" y2="478.6" stroke="#487f65" stroke-width="1"/>
<rect x="510.05" y="461.4" width="2.9" height="14.7" fill="#0b663b"/>
<rect x="510.90" y="461.9" width="1.3" height="13.7" fill="#1fa565"/>
<line x1="515.50" y1="445.5" x2="515.50" y2="461.4" stroke="#487f65" stroke-width="1"/>
<rect x="514.05" y="450.9" width="2.9" height="9.9" fill="#0b663b"/>
<rect x="514.90" y="451.4" width="1.3" height="8.9" fill="#1fa565"/>
<line x1="519.50" y1="430.5" x2="519.50" y2="447.9" stroke="#487f65" stroke-width="1"/>
<rect x="518.05" y="431.7" width="2.9" height="15.9" fill="#0b663b"/>
<rect x="518.90" y="432.2" width="1.3" height="14.9" fill="#1fa565"/>
<line x1="524.50" y1="428.1" x2="524.50" y2="444.9" stroke="#487f65" stroke-width="1"/>
<rect x="523.05" y="429.1" width="2.9" height="3.4" fill="#0b663b"/>
<rect x="523.90" y="429.6" width="1.3" height="2.4" fill="#1fa565"/>
<line x1="528.50" y1="415.2" x2="528.50" y2="433.6" stroke="#487f65" stroke-width="1"/>
<rect x="527.05" y="428.1" width="2.9" height="1.6" fill="#87302c"/>
<line x1="532.50" y1="425.1" x2="532.50" y2="437.6" stroke="#487f65" stroke-width="1"/>
<rect x="531.05" y="426.5" width="2.9" height="3.2" fill="#87302c"/>
<rect x="531.90" y="427.0" width="1.3" height="2.2" fill="#e8665b"/>
<line x1="536.50" y1="402.3" x2="536.50" y2="436.0" stroke="#487f65" stroke-width="1"/>
<rect x="535.05" y="408.3" width="2.9" height="27.4" fill="#0b663b"/>
<rect x="535.90" y="408.8" width="1.3" height="26.4" fill="#1fa565"/>
<line x1="540.50" y1="400.7" x2="540.50" y2="417.2" stroke="#487f65" stroke-width="1"/>
<rect x="539.05" y="405.3" width="2.9" height="7.3" fill="#87302c"/>
<rect x="539.90" y="405.8" width="1.3" height="6.3" fill="#e8665b"/>
<line x1="544.50" y1="335.3" x2="544.50" y2="407.3" stroke="#487f65" stroke-width="1"/>
<rect x="543.05" y="342.4" width="2.9" height="60.3" fill="#0b663b"/>
<rect x="543.90" y="342.9" width="1.3" height="59.3" fill="#1fa565"/>
<line x1="548.50" y1="342.4" x2="548.50" y2="361.7" stroke="#487f65" stroke-width="1"/>
<rect x="547.05" y="349.8" width="2.9" height="2.6" fill="#0b663b"/>
<rect x="547.90" y="350.3" width="1.3" height="1.6" fill="#1fa565"/>
<line x1="553.50" y1="333.3" x2="553.50" y2="366.2" stroke="#487f65" stroke-width="1"/>
<rect x="552.05" y="348.4" width="2.9" height="13.3" fill="#87302c"/>
<rect x="552.90" y="348.9" width="1.3" height="12.3" fill="#e8665b"/>
<line x1="557.50" y1="350.4" x2="557.50" y2="387.5" stroke="#487f65" stroke-width="1"/>
<rect x="556.05" y="361.7" width="2.9" height="21.2" fill="#87302c"/>
<rect x="556.90" y="362.2" width="1.3" height="20.2" fill="#e8665b"/>
<line x1="561.50" y1="366.2" x2="561.50" y2="404.7" stroke="#487f65" stroke-width="1"/>
<rect x="560.05" y="377.5" width="2.9" height="16.9" fill="#87302c"/>
<rect x="560.90" y="378.0" width="1.3" height="15.9" fill="#e8665b"/>
<line x1="565.50" y1="376.9" x2="565.50" y2="398.8" stroke="#487f65" stroke-width="1"/>
<rect x="564.05" y="379.5" width="2.9" height="8.9" fill="#0b663b"/>
<rect x="564.90" y="380.0" width="1.3" height="7.9" fill="#1fa565"/>
<line x1="569.50" y1="367.0" x2="569.50" y2="425.1" stroke="#487f65" stroke-width="1"/>
<rect x="568.05" y="368.2" width="2.9" height="27.2" fill="#87302c"/>
<rect x="568.90" y="368.7" width="1.3" height="26.2" fill="#e8665b"/>
<line x1="573.50" y1="382.9" x2="573.50" y2="423.7" stroke="#487f65" stroke-width="1"/>
<rect x="572.05" y="394.4" width="2.9" height="5.9" fill="#0b663b"/>
<rect x="572.90" y="394.9" width="1.3" height="4.9" fill="#1fa565"/>
<line x1="577.50" y1="386.5" x2="577.50" y2="438.4" stroke="#487f65" stroke-width="1"/>
<rect x="576.05" y="388.4" width="2.9" height="31.3" fill="#87302c"/>
<rect x="576.90" y="388.9" width="1.3" height="30.3" fill="#e8665b"/>
<line x1="582.50" y1="384.5" x2="582.50" y2="426.5" stroke="#487f65" stroke-width="1"/>
<rect x="581.05" y="394.4" width="2.9" height="23.4" fill="#0b663b"/>
<rect x="581.90" y="394.9" width="1.3" height="22.4" fill="#1fa565"/>
<line x1="586.50" y1="388.8" x2="586.50" y2="409.9" stroke="#487f65" stroke-width="1"/>
<rect x="585.05" y="396.0" width="2.9" height="9.3" fill="#87302c"/>
<rect x="585.90" y="396.5" width="1.3" height="8.3" fill="#e8665b"/>
<line x1="590.50" y1="401.3" x2="590.50" y2="423.1" stroke="#487f65" stroke-width="1"/>
<rect x="589.05" y="405.3" width="2.9" height="1.4" fill="#87302c"/>
<line x1="594.50" y1="403.9" x2="594.50" y2="419.2" stroke="#487f65" stroke-width="1"/>
<rect x="593.05" y="406.7" width="2.9" height="1.6" fill="#0b663b"/>
<line x1="598.50" y1="400.3" x2="598.50" y2="420.6" stroke="#487f65" stroke-width="1"/>
<rect x="597.05" y="400.7" width="2.9" height="11.9" fill="#87302c"/>
<rect x="597.90" y="401.2" width="1.3" height="10.9" fill="#e8665b"/>
<line x1="602.50" y1="399.3" x2="602.50" y2="415.8" stroke="#487f65" stroke-width="1"/>
<rect x="601.05" y="404.3" width="2.9" height="8.3" fill="#0b663b"/>
<rect x="601.90" y="404.8" width="1.3" height="7.3" fill="#1fa565"/>
<line x1="606.50" y1="373.6" x2="606.50" y2="413.8" stroke="#487f65" stroke-width="1"/>
<rect x="605.05" y="386.5" width="2.9" height="10.9" fill="#0b663b"/>
<rect x="605.90" y="387.0" width="1.3" height="9.9" fill="#1fa565"/>
<line x1="611.50" y1="365.0" x2="611.50" y2="384.1" stroke="#487f65" stroke-width="1"/>
<rect x="610.05" y="373.0" width="2.9" height="10.5" fill="#0b663b"/>
<rect x="610.90" y="373.5" width="1.3" height="9.5" fill="#1fa565"/>
<line x1="615.50" y1="369.6" x2="615.50" y2="406.7" stroke="#487f65" stroke-width="1"/>
<rect x="614.05" y="370.2" width="2.9" height="12.7" fill="#87302c"/>
<rect x="614.90" y="370.7" width="1.3" height="11.7" fill="#e8665b"/>
<line x1="619.50" y1="378.1" x2="619.50" y2="400.3" stroke="#487f65" stroke-width="1"/>
<rect x="618.05" y="381.3" width="2.9" height="1.2" fill="#0b663b"/>
<line x1="623.50" y1="381.5" x2="623.50" y2="401.9" stroke="#487f65" stroke-width="1"/>
<rect x="622.05" y="384.1" width="2.9" height="4.8" fill="#87302c"/>
<rect x="622.90" y="384.6" width="1.3" height="3.8" fill="#e8665b"/>
<line x1="627.50" y1="369.6" x2="627.50" y2="399.3" stroke="#487f65" stroke-width="1"/>
<rect x="626.05" y="374.6" width="2.9" height="12.9" fill="#0b663b"/>
<rect x="626.90" y="375.1" width="1.3" height="11.9" fill="#1fa565"/>
<line x1="631.50" y1="361.7" x2="631.50" y2="376.5" stroke="#487f65" stroke-width="1"/>
<rect x="630.05" y="362.3" width="2.9" height="7.3" fill="#0b663b"/>
<rect x="630.90" y="362.8" width="1.3" height="6.3" fill="#1fa565"/>
<line x1="635.50" y1="354.3" x2="635.50" y2="373.6" stroke="#487f65" stroke-width="1"/>
<rect x="634.05" y="361.7" width="2.9" height="6.9" fill="#87302c"/>
<rect x="634.90" y="362.2" width="1.3" height="5.9" fill="#e8665b"/>
<line x1="639.50" y1="368.2" x2="639.50" y2="392.8" stroke="#487f65" stroke-width="1"/>
<rect x="638.05" y="370.6" width="2.9" height="21.8" fill="#87302c"/>
<rect x="638.90" y="371.1" width="1.3" height="20.8" fill="#e8665b"/>
<line x1="644.50" y1="369.6" x2="644.50" y2="390.4" stroke="#487f65" stroke-width="1"/>
<rect x="643.05" y="375.6" width="2.9" height="13.9" fill="#0b663b"/>
<rect x="643.90" y="376.1" width="1.3" height="12.9" fill="#1fa565"/>
<line x1="648.50" y1="364.3" x2="648.50" y2="376.5" stroke="#487f65" stroke-width="1"/>
<rect x="647.05" y="367.6" width="2.9" height="5.9" fill="#0b663b"/>
<rect x="647.90" y="368.1" width="1.3" height="4.9" fill="#1fa565"/>
<line x1="652.50" y1="356.3" x2="652.50" y2="381.5" stroke="#487f65" stroke-width="1"/>
<rect x="651.05" y="358.3" width="2.9" height="8.7" fill="#0b663b"/>
<rect x="651.90" y="358.8" width="1.3" height="7.7" fill="#1fa565"/>
<line x1="656.50" y1="325.2" x2="656.50" y2="357.0" stroke="#487f65" stroke-width="1"/>
<rect x="655.05" y="348.5" width="2.9" height="7.8" fill="#0b663b"/>
<rect x="655.90" y="349.0" width="1.3" height="6.8" fill="#1fa565"/>
<line x1="660.50" y1="314.3" x2="660.50" y2="367.5" stroke="#487f65" stroke-width="1"/>
<rect x="659.05" y="329.4" width="2.9" height="31.8" fill="#0b663b"/>
<rect x="659.90" y="329.9" width="1.3" height="30.8" fill="#1fa565"/>
<line x1="664.50" y1="289.9" x2="664.50" y2="339.5" stroke="#487f65" stroke-width="1"/>
<rect x="663.05" y="299.7" width="2.9" height="28.9" fill="#0b663b"/>
<rect x="663.90" y="300.2" width="1.3" height="27.9" fill="#1fa565"/>
<line x1="668.50" y1="258.1" x2="668.50" y2="307.6" stroke="#487f65" stroke-width="1"/>
<rect x="667.05" y="258.7" width="2.9" height="36.1" fill="#0b663b"/>
<rect x="667.90" y="259.2" width="1.3" height="35.1" fill="#1fa565"/>
<line x1="673.50" y1="229.0" x2="673.50" y2="272.1" stroke="#487f65" stroke-width="1"/>
<rect x="672.05" y="243.0" width="2.9" height="20.3" fill="#0b663b"/>
<rect x="672.90" y="243.5" width="1.3" height="19.3" fill="#1fa565"/>
<line x1="677.50" y1="247.5" x2="677.50" y2="289.9" stroke="#487f65" stroke-width="1"/>
<rect x="676.05" y="248.2" width="2.9" height="24.2" fill="#87302c"/>
<rect x="676.90" y="248.7" width="1.3" height="23.2" fill="#e8665b"/>
<line x1="681.50" y1="232.8" x2="681.50" y2="267.9" stroke="#487f65" stroke-width="1"/>
<rect x="680.05" y="240.5" width="2.9" height="22.1" fill="#0b663b"/>
<rect x="680.90" y="241.0" width="1.3" height="21.1" fill="#1fa565"/>
<line x1="685.50" y1="216.4" x2="685.50" y2="251.4" stroke="#487f65" stroke-width="1"/>
<rect x="684.05" y="230.0" width="2.9" height="1.8" fill="#0b663b"/>
<rect x="684.90" y="230.5" width="1.3" height="0.8" fill="#1fa565"/>
<line x1="689.50" y1="208.0" x2="689.50" y2="242.6" stroke="#487f65" stroke-width="1"/>
<rect x="688.05" y="231.0" width="2.9" height="1.1" fill="#0b663b"/>
<line x1="693.50" y1="227.2" x2="693.50" y2="266.8" stroke="#487f65" stroke-width="1"/>
<rect x="692.05" y="227.6" width="2.9" height="31.9" fill="#87302c"/>
<rect x="692.90" y="228.1" width="1.3" height="30.9" fill="#e8665b"/>
<line x1="697.50" y1="248.6" x2="697.50" y2="290.6" stroke="#487f65" stroke-width="1"/>
<rect x="696.05" y="260.1" width="2.9" height="18.6" fill="#0b663b"/>
<rect x="696.90" y="260.6" width="1.3" height="17.6" fill="#1fa565"/>
<line x1="702.50" y1="255.6" x2="702.50" y2="289.9" stroke="#487f65" stroke-width="1"/>
<rect x="701.05" y="260.9" width="2.9" height="13.6" fill="#87302c"/>
<rect x="701.90" y="261.4" width="1.3" height="12.6" fill="#e8665b"/>
<line x1="706.50" y1="259.1" x2="706.50" y2="286.6" stroke="#487f65" stroke-width="1"/>
<rect x="705.05" y="274.5" width="2.9" height="7.7" fill="#87302c"/>
<rect x="705.90" y="275.0" width="1.3" height="6.7" fill="#e8665b"/>
<line x1="710.50" y1="244.4" x2="710.50" y2="284.3" stroke="#487f65" stroke-width="1"/>
<rect x="709.05" y="255.6" width="2.9" height="27.3" fill="#0b663b"/>
<rect x="709.90" y="256.1" width="1.3" height="26.3" fill="#1fa565"/>
<line x1="714.50" y1="225.1" x2="714.50" y2="258.0" stroke="#487f65" stroke-width="1"/>
<rect x="713.05" y="249.2" width="2.9" height="8.1" fill="#0b663b"/>
<rect x="713.90" y="249.7" width="1.3" height="7.1" fill="#1fa565"/>
<line x1="718.50" y1="210.4" x2="718.50" y2="250.7" stroke="#487f65" stroke-width="1"/>
<rect x="717.05" y="213.2" width="2.9" height="30.4" fill="#0b663b"/>
<rect x="717.90" y="213.7" width="1.3" height="29.4" fill="#1fa565"/>
<line x1="722.50" y1="163.8" x2="722.50" y2="214.6" stroke="#487f65" stroke-width="1"/>
<rect x="721.05" y="170.8" width="2.9" height="32.6" fill="#0b663b"/>
<rect x="721.90" y="171.3" width="1.3" height="31.6" fill="#1fa565"/>
<line x1="726.50" y1="150.3" x2="726.50" y2="187.3" stroke="#487f65" stroke-width="1"/>
<rect x="725.05" y="163.0" width="2.9" height="1.3" fill="#0b663b"/>
<line x1="731.50" y1="151.0" x2="731.50" y2="183.8" stroke="#487f65" stroke-width="1"/>
<rect x="730.05" y="153.8" width="2.9" height="10.5" fill="#0b663b"/>
<rect x="730.90" y="154.3" width="1.3" height="9.5" fill="#1fa565"/>
<line x1="735.50" y1="134.2" x2="735.50" y2="188.7" stroke="#487f65" stroke-width="1"/>
<rect x="734.05" y="142.3" width="2.9" height="39.4" fill="#87302c"/>
<rect x="734.90" y="142.8" width="1.3" height="38.4" fill="#e8665b"/>
<line x1="739.50" y1="160.1" x2="739.50" y2="219.5" stroke="#487f65" stroke-width="1"/>
<rect x="738.05" y="173.4" width="2.9" height="38.0" fill="#87302c"/>
<rect x="738.90" y="173.9" width="1.3" height="37.0" fill="#e8665b"/>
<line x1="743.50" y1="182.4" x2="743.50" y2="234.6" stroke="#487f65" stroke-width="1"/>
<rect x="742.05" y="189.4" width="2.9" height="21.0" fill="#0b663b"/>
<rect x="742.90" y="189.9" width="1.3" height="20.0" fill="#1fa565"/>
<line x1="747.50" y1="188.7" x2="747.50" y2="267.9" stroke="#487f65" stroke-width="1"/>
<rect x="746.05" y="189.4" width="2.9" height="63.7" fill="#87302c"/>
<rect x="746.90" y="189.9" width="1.3" height="62.7" fill="#e8665b"/>
<line x1="751.50" y1="254.2" x2="751.50" y2="280.5" stroke="#487f65" stroke-width="1"/>
<rect x="750.05" y="257.3" width="2.9" height="14.4" fill="#0b663b"/>
<rect x="750.90" y="257.8" width="1.3" height="13.4" fill="#1fa565"/>
<line x1="755.50" y1="238.4" x2="755.50" y2="258.4" stroke="#487f65" stroke-width="1"/>
<rect x="754.05" y="245.4" width="2.9" height="8.5" fill="#0b663b"/>
<rect x="754.90" y="245.9" width="1.3" height="7.5" fill="#1fa565"/>
<line x1="760.50" y1="218.1" x2="760.50" y2="257.7" stroke="#487f65" stroke-width="1"/>
<rect x="759.05" y="240.2" width="2.9" height="1.4" fill="#87302c"/>
<line x1="764.50" y1="218.1" x2="764.50" y2="272.1" stroke="#487f65" stroke-width="1"/>
<rect x="763.05" y="246.1" width="2.9" height="5.3" fill="#0b663b"/>
<rect x="763.90" y="246.6" width="1.3" height="4.3" fill="#1fa565"/>
<line x1="768.50" y1="248.6" x2="768.50" y2="295.9" stroke="#487f65" stroke-width="1"/>
<rect x="767.05" y="251.1" width="2.9" height="35.3" fill="#87302c"/>
<rect x="767.90" y="251.6" width="1.3" height="34.3" fill="#e8665b"/>
<line x1="772.50" y1="282.2" x2="772.50" y2="316.4" stroke="#487f65" stroke-width="1"/>
<rect x="771.05" y="298.9" width="2.9" height="1.0" fill="#0b663b"/>
<line x1="776.50" y1="253.9" x2="776.50" y2="297.6" stroke="#487f65" stroke-width="1"/>
<rect x="775.05" y="280.1" width="2.9" height="17.5" fill="#0b663b"/>
<rect x="775.90" y="280.6" width="1.3" height="16.5" fill="#1fa565"/>
<line x1="780.50" y1="225.1" x2="780.50" y2="277.3" stroke="#487f65" stroke-width="1"/>
<rect x="779.05" y="251.1" width="2.9" height="25.8" fill="#0b663b"/>
<rect x="779.90" y="251.6" width="1.3" height="24.8" fill="#1fa565"/>
<line x1="784.50" y1="218.1" x2="784.50" y2="335.6" stroke="#487f65" stroke-width="1"/>
<rect x="783.05" y="252.1" width="2.9" height="76.9" fill="#87302c"/>
<rect x="783.90" y="252.6" width="1.3" height="75.9" fill="#e8665b"/>
<line x1="789.50" y1="311.5" x2="789.50" y2="368.9" stroke="#487f65" stroke-width="1"/>
<rect x="788.05" y="327.2" width="2.9" height="5.3" fill="#0b663b"/>
<rect x="788.90" y="327.7" width="1.3" height="4.3" fill="#1fa565"/>
<line x1="793.50" y1="309.4" x2="793.50" y2="359.8" stroke="#487f65" stroke-width="1"/>
<rect x="792.05" y="325.5" width="2.9" height="25.9" fill="#87302c"/>
<rect x="792.90" y="326.0" width="1.3" height="24.9" fill="#e8665b"/>
<line x1="797.50" y1="327.6" x2="797.50" y2="368.9" stroke="#487f65" stroke-width="1"/>
<rect x="796.05" y="340.6" width="2.9" height="9.0" fill="#0b663b"/>
<rect x="796.90" y="341.1" width="1.3" height="8.0" fill="#1fa565"/>
<line x1="801.50" y1="312.2" x2="801.50" y2="363.0" stroke="#487f65" stroke-width="1"/>
<rect x="800.05" y="314.1" width="2.9" height="26.6" fill="#0b663b"/>
<rect x="800.90" y="314.6" width="1.3" height="25.6" fill="#1fa565"/>
<line x1="805.50" y1="275.9" x2="805.50" y2="323.8" stroke="#487f65" stroke-width="1"/>
<rect x="804.05" y="276.6" width="2.9" height="37.1" fill="#0b663b"/>
<rect x="804.90" y="277.1" width="1.3" height="36.1" fill="#1fa565"/>
<line x1="809.50" y1="253.1" x2="809.50" y2="290.6" stroke="#487f65" stroke-width="1"/>
<rect x="808.05" y="262.3" width="2.9" height="15.4" fill="#0b663b"/>
<rect x="808.90" y="262.8" width="1.3" height="14.4" fill="#1fa565"/>
<line x1="813.50" y1="256.3" x2="813.50" y2="300.3" stroke="#487f65" stroke-width="1"/>
<rect x="812.05" y="264.3" width="2.9" height="25.6" fill="#87302c"/>
<rect x="812.90" y="264.8" width="1.3" height="24.6" fill="#e8665b"/>
<line x1="818.50" y1="281.9" x2="818.50" y2="307.6" stroke="#487f65" stroke-width="1"/>
<rect x="817.05" y="289.9" width="2.9" height="7.7" fill="#0b663b"/>
<rect x="817.90" y="290.4" width="1.3" height="6.7" fill="#1fa565"/>
<line x1="822.50" y1="267.5" x2="822.50" y2="310.4" stroke="#487f65" stroke-width="1"/>
<rect x="821.05" y="290.6" width="2.9" height="19.6" fill="#87302c"/>
<rect x="821.90" y="291.1" width="1.3" height="18.6" fill="#e8665b"/>
<line x1="826.50" y1="307.3" x2="826.50" y2="335.0" stroke="#487f65" stroke-width="1"/>
<rect x="825.05" y="315.0" width="2.9" height="10.5" fill="#87302c"/>
<rect x="825.90" y="315.5" width="1.3" height="9.5" fill="#e8665b"/>
<line x1="830.50" y1="227.2" x2="830.50" y2="339.5" stroke="#487f65" stroke-width="1"/>
<rect x="829.05" y="228.9" width="2.9" height="98.4" fill="#0b663b"/>
<rect x="829.90" y="229.4" width="1.3" height="97.4" fill="#1fa565"/>
<line x1="834.50" y1="234.7" x2="834.50" y2="301.9" stroke="#487f65" stroke-width="1"/>
<rect x="833.05" y="237.7" width="2.9" height="17.7" fill="#87302c"/>
<rect x="833.90" y="238.2" width="1.3" height="16.7" fill="#e8665b"/>
<line x1="838.50" y1="224.1" x2="838.50" y2="264.8" stroke="#487f65" stroke-width="1"/>
<rect x="837.05" y="240.4" width="2.9" height="20.4" fill="#0b663b"/>
<rect x="837.90" y="240.9" width="1.3" height="19.4" fill="#1fa565"/>
<line x1="842.50" y1="168.0" x2="842.50" y2="247.9" stroke="#487f65" stroke-width="1"/>
<rect x="841.05" y="174.1" width="2.9" height="59.5" fill="#0b663b"/>
<rect x="841.90" y="174.6" width="1.3" height="58.5" fill="#1fa565"/>
<line x1="847.50" y1="183.1" x2="847.50" y2="247.9" stroke="#487f65" stroke-width="1"/>
<rect x="846.05" y="185.1" width="2.9" height="28.8" fill="#87302c"/>
<rect x="846.90" y="185.6" width="1.3" height="27.8" fill="#e8665b"/>
<line x1="851.50" y1="194.9" x2="851.50" y2="243.2" stroke="#487f65" stroke-width="1"/>
<rect x="850.05" y="206.1" width="2.9" height="33.6" fill="#87302c"/>
<rect x="850.90" y="206.6" width="1.3" height="32.6" fill="#e8665b"/>
<line x1="855.50" y1="254.0" x2="855.50" y2="313.1" stroke="#487f65" stroke-width="1"/>
<rect x="854.05" y="256.1" width="2.9" height="32.0" fill="#87302c"/>
<rect x="854.90" y="256.6" width="1.3" height="31.0" fill="#e8665b"/>
<line x1="859.50" y1="259.5" x2="859.50" y2="294.2" stroke="#487f65" stroke-width="1"/>
<rect x="858.05" y="262.8" width="2.9" height="15.1" fill="#0b663b"/>
<rect x="858.90" y="263.3" width="1.3" height="14.1" fill="#1fa565"/>
<line x1="863.50" y1="247.9" x2="863.50" y2="309.7" stroke="#487f65" stroke-width="1"/>
<rect x="862.05" y="269.3" width="2.9" height="32.2" fill="#87302c"/>
<rect x="862.90" y="269.8" width="1.3" height="31.2" fill="#e8665b"/>
<line x1="867.50" y1="294.2" x2="867.50" y2="323.3" stroke="#487f65" stroke-width="1"/>
<rect x="866.05" y="299.9" width="2.9" height="9.8" fill="#0b663b"/>
<rect x="866.90" y="300.4" width="1.3" height="8.8" fill="#1fa565"/>
<line x1="871.50" y1="305.6" x2="871.50" y2="331.5" stroke="#487f65" stroke-width="1"/>
<rect x="870.05" y="307.0" width="2.9" height="3.5" fill="#87302c"/>
<rect x="870.90" y="307.5" width="1.3" height="2.5" fill="#e8665b"/>
<line x1="876.50" y1="256.1" x2="876.50" y2="305.6" stroke="#487f65" stroke-width="1"/>
<rect x="875.05" y="269.3" width="2.9" height="30.2" fill="#0b663b"/>
<rect x="875.90" y="269.8" width="1.3" height="29.2" fill="#1fa565"/>
<line x1="880.50" y1="222.0" x2="880.50" y2="277.5" stroke="#487f65" stroke-width="1"/>
<rect x="879.05" y="224.9" width="2.9" height="44.8" fill="#0b663b"/>
<rect x="879.90" y="225.4" width="1.3" height="43.8" fill="#1fa565"/>
<line x1="884.50" y1="213.9" x2="884.50" y2="252.6" stroke="#487f65" stroke-width="1"/>
<rect x="883.05" y="228.5" width="2.9" height="9.8" fill="#87302c"/>
<rect x="883.90" y="229.0" width="1.3" height="8.8" fill="#e8665b"/>
<line x1="888.50" y1="152.7" x2="888.50" y2="231.6" stroke="#487f65" stroke-width="1"/>
<rect x="887.05" y="152.7" width="2.9" height="74.2" fill="#0b663b"/>
<rect x="887.90" y="153.2" width="1.3" height="73.2" fill="#1fa565"/>
<line x1="892.50" y1="138.2" x2="892.50" y2="182.3" stroke="#487f65" stroke-width="1"/>
<rect x="891.05" y="162.9" width="2.9" height="13.2" fill="#87302c"/>
<rect x="891.90" y="163.4" width="1.3" height="12.2" fill="#e8665b"/>
<line x1="896.50" y1="120.5" x2="896.50" y2="188.4" stroke="#487f65" stroke-width="1"/>
<rect x="895.05" y="139.9" width="2.9" height="45.9" fill="#0b663b"/>
<rect x="895.90" y="140.4" width="1.3" height="44.9" fill="#1fa565"/>
<line x1="900.50" y1="135.8" x2="900.50" y2="214.7" stroke="#487f65" stroke-width="1"/>
<rect x="899.05" y="150.1" width="2.9" height="45.2" fill="#87302c"/>
<rect x="899.90" y="150.6" width="1.3" height="44.2" fill="#e8665b"/>
<line x1="905.50" y1="113.0" x2="905.50" y2="197.0" stroke="#487f65" stroke-width="1"/>
<rect x="904.05" y="116.0" width="2.9" height="61.6" fill="#0b663b"/>
<rect x="904.90" y="116.5" width="1.3" height="60.6" fill="#1fa565"/>
<line x1="909.50" y1="101.8" x2="909.50" y2="161.9" stroke="#487f65" stroke-width="1"/>
<rect x="908.05" y="116.0" width="2.9" height="25.9" fill="#87302c"/>
<rect x="908.90" y="116.5" width="1.3" height="24.9" fill="#e8665b"/>
<line x1="913.50" y1="121.9" x2="913.50" y2="193.9" stroke="#487f65" stroke-width="1"/>
<rect x="912.05" y="152.7" width="2.9" height="24.3" fill="#87302c"/>
<rect x="912.90" y="153.2" width="1.3" height="23.3" fill="#e8665b"/>
<line x1="917.50" y1="157.8" x2="917.50" y2="191.9" stroke="#487f65" stroke-width="1"/>
<rect x="916.05" y="181.7" width="2.9" height="4.7" fill="#87302c"/>
<rect x="916.90" y="182.2" width="1.3" height="3.7" fill="#e8665b"/>
<line x1="921.50" y1="138.2" x2="921.50" y2="189.8" stroke="#487f65" stroke-width="1"/>
<rect x="920.05" y="170.5" width="2.9" height="4.1" fill="#0b663b"/>
<rect x="920.90" y="171.0" width="1.3" height="3.1" fill="#1fa565"/>
<line x1="925.50" y1="158.6" x2="925.50" y2="249.3" stroke="#487f65" stroke-width="1"/>
<rect x="924.05" y="168.8" width="2.9" height="69.9" fill="#87302c"/>
<rect x="924.90" y="169.3" width="1.3" height="68.9" fill="#e8665b"/>
<line x1="929.50" y1="172.9" x2="929.50" y2="226.5" stroke="#487f65" stroke-width="1"/>
<rect x="928.05" y="175.5" width="2.9" height="49.4" fill="#0b663b"/>
<rect x="928.90" y="176.0" width="1.3" height="48.4" fill="#1fa565"/>
<line x1="934.50" y1="142.3" x2="934.50" y2="197.0" stroke="#487f65" stroke-width="1"/>
<rect x="933.05" y="156.2" width="2.9" height="21.4" fill="#0b663b"/>
<rect x="933.90" y="156.7" width="1.3" height="20.4" fill="#1fa565"/>
<line x1="938.50" y1="140.9" x2="938.50" y2="212.8" stroke="#487f65" stroke-width="1"/>
<rect x="937.05" y="147.0" width="2.9" height="13.7" fill="#0b663b"/>
<rect x="937.90" y="147.5" width="1.3" height="12.7" fill="#1fa565"/>
<line x1="942.50" y1="51.2" x2="942.50" y2="152.5" stroke="#487f65" stroke-width="1"/>
<rect x="941.05" y="68.1" width="2.9" height="74.8" fill="#0b663b"/>
<rect x="941.90" y="68.6" width="1.3" height="73.8" fill="#1fa565"/>
<line x1="946.50" y1="71.0" x2="946.50" y2="166.8" stroke="#487f65" stroke-width="1"/>
<rect x="945.05" y="73.0" width="2.9" height="89.3" fill="#87302c"/>
<rect x="945.90" y="73.5" width="1.3" height="88.3" fill="#e8665b"/>
<line x1="950.50" y1="138.2" x2="950.50" y2="181.1" stroke="#487f65" stroke-width="1"/>
<rect x="949.05" y="165.4" width="2.9" height="5.1" fill="#87302c"/>
<rect x="949.90" y="165.9" width="1.3" height="4.1" fill="#e8665b"/>
<line x1="954.50" y1="145.6" x2="954.50" y2="188.4" stroke="#487f65" stroke-width="1"/>
<rect x="953.05" y="147.0" width="2.9" height="34.7" fill="#0b663b"/>
<rect x="953.90" y="147.5" width="1.3" height="33.7" fill="#1fa565"/>
<line x1="958.50" y1="151.7" x2="958.50" y2="209.6" stroke="#487f65" stroke-width="1"/>
<rect x="957.05" y="153.7" width="2.9" height="55.0" fill="#87302c"/>
<rect x="957.90" y="154.2" width="1.3" height="54.0" fill="#e8665b"/>
<line x1="963.50" y1="177.0" x2="963.50" y2="238.7" stroke="#487f65" stroke-width="1"/>
<rect x="962.05" y="209.7" width="2.9" height="18.8" fill="#87302c"/>
<rect x="962.90" y="210.2" width="1.3" height="17.8" fill="#e8665b"/>
<line x1="967.50" y1="226.9" x2="967.50" y2="269.7" stroke="#487f65" stroke-width="1"/>
<rect x="966.05" y="228.5" width="2.9" height="31.0" fill="#87302c"/>
<rect x="966.90" y="229.0" width="1.3" height="30.0" fill="#e8665b"/>
<line x1="971.50" y1="260.1" x2="971.50" y2="290.7" stroke="#487f65" stroke-width="1"/>
<rect x="970.05" y="262.2" width="2.9" height="16.3" fill="#87302c"/>
<rect x="970.90" y="262.7" width="1.3" height="15.3" fill="#e8665b"/>
<line x1="975.50" y1="263.2" x2="975.50" y2="294.2" stroke="#487f65" stroke-width="1"/>
<rect x="974.05" y="269.3" width="2.9" height="5.1" fill="#0b663b"/>
<rect x="974.90" y="269.8" width="1.3" height="4.1" fill="#1fa565"/>
<line x1="979.50" y1="224.1" x2="979.50" y2="270.9" stroke="#487f65" stroke-width="1"/>
<rect x="978.05" y="229.6" width="2.9" height="34.0" fill="#0b663b"/>
<rect x="978.90" y="230.1" width="1.3" height="33.0" fill="#1fa565"/>
<line x1="983.50" y1="210.6" x2="983.50" y2="241.8" stroke="#487f65" stroke-width="1"/>
<rect x="982.05" y="217.3" width="2.9" height="9.6" fill="#0b663b"/>
<rect x="982.90" y="217.8" width="1.3" height="8.6" fill="#1fa565"/>
<line x1="987.50" y1="146.0" x2="987.50" y2="216.3" stroke="#487f65" stroke-width="1"/>
<rect x="986.05" y="152.7" width="2.9" height="62.6" fill="#0b663b"/>
<rect x="986.90" y="153.2" width="1.3" height="61.6" fill="#1fa565"/>
<line x1="992.50" y1="133.4" x2="992.50" y2="172.9" stroke="#487f65" stroke-width="1"/>
<rect x="991.05" y="141.9" width="2.9" height="20.4" fill="#0b663b"/>
<rect x="991.90" y="142.4" width="1.3" height="19.4" fill="#1fa565"/>
<line x1="996.50" y1="136.8" x2="996.50" y2="195.9" stroke="#487f65" stroke-width="1"/>
<rect x="995.05" y="143.5" width="2.9" height="36.1" fill="#87302c"/>
<rect x="995.90" y="144.0" width="1.3" height="35.1" fill="#e8665b"/>
<line x1="1000.50" y1="130.7" x2="1000.50" y2="209.5" stroke="#487f65" stroke-width="1"/>
<rect x="999.05" y="178.2" width="2.9" height="20.8" fill="#87302c"/>
<rect x="999.90" y="178.7" width="1.3" height="19.8" fill="#e8665b"/>
<line x1="1004.50" y1="201.0" x2="1004.50" y2="231.0" stroke="#487f65" stroke-width="1"/>
<rect x="1003.05" y="202.0" width="2.9" height="13.3" fill="#87302c"/>
<rect x="1003.90" y="202.5" width="1.3" height="12.3" fill="#e8665b"/>
<line x1="1008.50" y1="192.4" x2="1008.50" y2="228.0" stroke="#487f65" stroke-width="1"/>
<rect x="1007.05" y="196.0" width="2.9" height="12.5" fill="#0b663b"/>
<rect x="1007.90" y="196.5" width="1.3" height="11.5" fill="#1fa565"/>
<line x1="1012.50" y1="188.3" x2="1012.50" y2="264.7" stroke="#487f65" stroke-width="1"/>
<rect x="1011.05" y="194.4" width="2.9" height="68.3" fill="#87302c"/>
<rect x="1011.90" y="194.9" width="1.3" height="67.3" fill="#e8665b"/>
<line x1="1016.50" y1="252.9" x2="1016.50" y2="297.9" stroke="#487f65" stroke-width="1"/>
<rect x="1015.05" y="271.2" width="2.9" height="23.5" fill="#87302c"/>
<rect x="1015.90" y="271.7" width="1.3" height="22.5" fill="#e8665b"/>
<line x1="1021.50" y1="260.2" x2="1021.50" y2="301.4" stroke="#487f65" stroke-width="1"/>
<rect x="1020.05" y="276.5" width="2.9" height="17.4" fill="#0b663b"/>
<rect x="1020.90" y="277.0" width="1.3" height="16.4" fill="#1fa565"/>
<line x1="1025.50" y1="253.5" x2="1025.50" y2="279.0" stroke="#487f65" stroke-width="1"/>
<rect x="1024.05" y="269.8" width="2.9" height="1.4" fill="#0b663b"/>
<line x1="1029.50" y1="265.1" x2="1029.50" y2="323.8" stroke="#487f65" stroke-width="1"/>
<rect x="1028.05" y="269.8" width="2.9" height="52.0" fill="#87302c"/>
<rect x="1028.90" y="270.3" width="1.3" height="51.0" fill="#e8665b"/>
<line x1="1033.50" y1="286.7" x2="1033.50" y2="322.8" stroke="#487f65" stroke-width="1"/>
<rect x="1032.05" y="302.8" width="2.9" height="19.6" fill="#0b663b"/>
<rect x="1032.90" y="303.3" width="1.3" height="18.6" fill="#1fa565"/>
<line x1="1037.50" y1="286.7" x2="1037.50" y2="365.6" stroke="#487f65" stroke-width="1"/>
<rect x="1036.05" y="301.4" width="2.9" height="60.5" fill="#87302c"/>
<rect x="1036.90" y="301.9" width="1.3" height="59.5" fill="#e8665b"/>
<line x1="1041.50" y1="332.6" x2="1041.50" y2="355.8" stroke="#487f65" stroke-width="1"/>
<rect x="1040.05" y="338.7" width="2.9" height="13.7" fill="#0b663b"/>
<rect x="1040.90" y="339.2" width="1.3" height="12.7" fill="#1fa565"/>
<line x1="1045.50" y1="334.0" x2="1045.50" y2="364.6" stroke="#487f65" stroke-width="1"/>
<rect x="1044.05" y="335.4" width="2.9" height="15.5" fill="#87302c"/>
<rect x="1044.90" y="335.9" width="1.3" height="14.5" fill="#e8665b"/>
<line x1="1050.50" y1="307.5" x2="1050.50" y2="343.2" stroke="#487f65" stroke-width="1"/>
<rect x="1049.05" y="319.1" width="2.9" height="23.6" fill="#0b663b"/>
<rect x="1049.90" y="319.6" width="1.3" height="22.6" fill="#1fa565"/>
<line x1="1054.50" y1="286.1" x2="1054.50" y2="311.0" stroke="#487f65" stroke-width="1"/>
<rect x="1053.05" y="303.4" width="2.9" height="6.8" fill="#0b663b"/>
<rect x="1053.90" y="303.9" width="1.3" height="5.8" fill="#1fa565"/>
<line x1="1058.50" y1="271.2" x2="1058.50" y2="308.5" stroke="#487f65" stroke-width="1"/>
<rect x="1057.05" y="293.0" width="2.9" height="10.4" fill="#87302c"/>
<rect x="1057.90" y="293.5" width="1.3" height="9.4" fill="#e8665b"/>
<line x1="1062.50" y1="291.2" x2="1062.50" y2="326.5" stroke="#487f65" stroke-width="1"/>
<rect x="1061.05" y="294.7" width="2.9" height="6.7" fill="#0b663b"/>
<rect x="1061.90" y="295.2" width="1.3" height="5.7" fill="#1fa565"/>
<line x1="1066.50" y1="266.4" x2="1066.50" y2="302.8" stroke="#487f65" stroke-width="1"/>
<rect x="1065.05" y="271.2" width="2.9" height="22.3" fill="#0b663b"/>
<rect x="1065.90" y="271.7" width="1.3" height="21.3" fill="#1fa565"/>
<line x1="1070.50" y1="245.4" x2="1070.50" y2="277.4" stroke="#487f65" stroke-width="1"/>
<rect x="1069.05" y="256.2" width="2.9" height="15.7" fill="#0b663b"/>
<rect x="1069.90" y="256.7" width="1.3" height="14.7" fill="#1fa565"/>
<line x1="1074.50" y1="246.0" x2="1074.50" y2="275.9" stroke="#487f65" stroke-width="1"/>
<rect x="1073.05" y="255.5" width="2.9" height="16.3" fill="#87302c"/>
<rect x="1073.90" y="256.0" width="1.3" height="15.3" fill="#e8665b"/>
<line x1="1079.50" y1="256.2" x2="1079.50" y2="281.0" stroke="#487f65" stroke-width="1"/>
<rect x="1078.05" y="265.7" width="2.9" height="2.6" fill="#0b663b"/>
<rect x="1078.90" y="266.2" width="1.3" height="1.6" fill="#1fa565"/>
<line x1="1083.50" y1="233.1" x2="1083.50" y2="272.5" stroke="#487f65" stroke-width="1"/>
<rect x="1082.05" y="238.2" width="2.9" height="26.1" fill="#0b663b"/>
<rect x="1082.90" y="238.7" width="1.3" height="25.1" fill="#1fa565"/>
<line x1="1087.50" y1="218.9" x2="1087.50" y2="244.3" stroke="#487f65" stroke-width="1"/>
<rect x="1086.05" y="238.2" width="2.9" height="5.1" fill="#87302c"/>
<rect x="1086.90" y="238.7" width="1.3" height="4.1" fill="#e8665b"/>
<line x1="1091.50" y1="234.1" x2="1091.50" y2="288.2" stroke="#487f65" stroke-width="1"/>
<rect x="1090.05" y="245.4" width="2.9" height="35.2" fill="#87302c"/>
<rect x="1090.90" y="245.9" width="1.3" height="34.2" fill="#e8665b"/>
<line x1="1095.50" y1="276.5" x2="1095.50" y2="300.8" stroke="#487f65" stroke-width="1"/>
<rect x="1094.05" y="284.1" width="2.9" height="11.8" fill="#87302c"/>
<rect x="1094.90" y="284.6" width="1.3" height="10.8" fill="#e8665b"/>
<line x1="1099.50" y1="280.0" x2="1099.50" y2="312.6" stroke="#487f65" stroke-width="1"/>
<rect x="1098.05" y="295.3" width="2.9" height="16.3" fill="#87302c"/>
<rect x="1098.90" y="295.8" width="1.3" height="15.3" fill="#e8665b"/>
<line x1="1103.50" y1="310.2" x2="1103.50" y2="336.1" stroke="#487f65" stroke-width="1"/>
<rect x="1102.05" y="310.6" width="2.9" height="24.9" fill="#87302c"/>
<rect x="1102.90" y="311.1" width="1.3" height="23.9" fill="#e8665b"/>
<line x1="1108.50" y1="336.1" x2="1108.50" y2="350.9" stroke="#487f65" stroke-width="1"/>
<rect x="1107.05" y="340.1" width="2.9" height="3.5" fill="#87302c"/>
<rect x="1107.90" y="340.6" width="1.3" height="2.5" fill="#e8665b"/>
<line x1="1112.50" y1="324.4" x2="1112.50" y2="339.1" stroke="#487f65" stroke-width="1"/>
<rect x="1111.05" y="331.0" width="2.9" height="7.1" fill="#0b663b"/>
<rect x="1111.90" y="331.5" width="1.3" height="6.1" fill="#1fa565"/>
<line x1="1116.50" y1="306.9" x2="1116.50" y2="332.0" stroke="#487f65" stroke-width="1"/>
<rect x="1115.05" y="310.6" width="2.9" height="20.8" fill="#0b663b"/>
<rect x="1115.90" y="311.1" width="1.3" height="19.8" fill="#1fa565"/>
<line x1="1120.50" y1="304.1" x2="1120.50" y2="345.2" stroke="#487f65" stroke-width="1"/>
<rect x="1119.05" y="311.0" width="2.9" height="30.6" fill="#87302c"/>
<rect x="1119.90" y="311.5" width="1.3" height="29.6" fill="#e8665b"/>
<line x1="1124.50" y1="332.0" x2="1124.50" y2="343.6" stroke="#487f65" stroke-width="1"/>
<rect x="1123.05" y="338.1" width="2.9" height="4.7" fill="#87302c"/>
<rect x="1123.90" y="338.6" width="1.3" height="3.7" fill="#e8665b"/>
<line x1="1128.50" y1="342.8" x2="1128.50" y2="373.4" stroke="#487f65" stroke-width="1"/>
<rect x="1127.05" y="343.2" width="2.9" height="29.6" fill="#87302c"/>
<rect x="1127.90" y="343.7" width="1.3" height="28.6" fill="#e8665b"/>
<line x1="1132.50" y1="355.8" x2="1132.50" y2="383.5" stroke="#487f65" stroke-width="1"/>
<rect x="1131.05" y="369.3" width="2.9" height="6.9" fill="#0b663b"/>
<rect x="1131.90" y="369.8" width="1.3" height="5.9" fill="#1fa565"/>
<line x1="1137.50" y1="369.7" x2="1137.50" y2="403.3" stroke="#487f65" stroke-width="1"/>
<rect x="1136.05" y="370.7" width="2.9" height="18.3" fill="#87302c"/>
<rect x="1136.90" y="371.2" width="1.3" height="17.3" fill="#e8665b"/>
<line x1="1141.50" y1="355.0" x2="1141.50" y2="401.3" stroke="#487f65" stroke-width="1"/>
<rect x="1140.05" y="381.9" width="2.9" height="10.2" fill="#0b663b"/>
<rect x="1140.90" y="382.4" width="1.3" height="9.2" fill="#1fa565"/>
<line x1="1145.50" y1="365.2" x2="1145.50" y2="430.4" stroke="#487f65" stroke-width="1"/>
<rect x="1144.05" y="376.8" width="2.9" height="53.0" fill="#87302c"/>
<rect x="1144.90" y="377.3" width="1.3" height="52.0" fill="#e8665b"/>
<line x1="1149.50" y1="423.8" x2="1149.50" y2="440.0" stroke="#487f65" stroke-width="1"/>
<rect x="1148.05" y="433.9" width="2.9" height="4.9" fill="#87302c"/>
<rect x="1148.90" y="434.4" width="1.3" height="3.9" fill="#e8665b"/>
<line x1="1153.50" y1="432.0" x2="1153.50" y2="472.7" stroke="#487f65" stroke-width="1"/>
<rect x="1152.05" y="434.4" width="2.9" height="16.3" fill="#87302c"/>
<rect x="1152.90" y="434.9" width="1.3" height="15.3" fill="#e8665b"/>
<line x1="1157.50" y1="455.0" x2="1157.50" y2="478.2" stroke="#487f65" stroke-width="1"/>
<rect x="1156.05" y="455.6" width="2.9" height="17.1" fill="#87302c"/>
<rect x="1156.90" y="456.1" width="1.3" height="16.1" fill="#e8665b"/>
<line x1="1161.50" y1="438.1" x2="1161.50" y2="480.7" stroke="#487f65" stroke-width="1"/>
<rect x="1160.05" y="451.5" width="2.9" height="25.2" fill="#0b663b"/>
<rect x="1160.90" y="452.0" width="1.3" height="24.2" fill="#1fa565"/>
<line x1="1166.50" y1="443.3" x2="1166.50" y2="462.9" stroke="#487f65" stroke-width="1"/>
<rect x="1165.05" y="448.2" width="2.9" height="3.1" fill="#0b663b"/>
<rect x="1165.90" y="448.7" width="1.3" height="2.1" fill="#1fa565"/>
<line x1="1170.50" y1="449.1" x2="1170.50" y2="469.0" stroke="#487f65" stroke-width="1"/>
<rect x="1169.05" y="454.2" width="2.9" height="1.0" fill="#0b663b"/>
<line x1="1174.50" y1="440.0" x2="1174.50" y2="480.7" stroke="#487f65" stroke-width="1"/>
<rect x="1173.05" y="450.3" width="2.9" height="8.3" fill="#0b663b"/>
<rect x="1173.90" y="450.8" width="1.3" height="7.3" fill="#1fa565"/>
<line x1="1178.50" y1="405.4" x2="1178.50" y2="463.8" stroke="#487f65" stroke-width="1"/>
<rect x="1177.05" y="413.4" width="2.9" height="45.3" fill="#0b663b"/>
<rect x="1177.90" y="413.9" width="1.3" height="44.3" fill="#1fa565"/>
<line x1="1182.50" y1="400.5" x2="1182.50" y2="423.1" stroke="#487f65" stroke-width="1"/>
<rect x="1181.05" y="407.2" width="2.9" height="6.4" fill="#0b663b"/>
<rect x="1181.90" y="407.7" width="1.3" height="5.4" fill="#1fa565"/>
<line x1="1186.50" y1="402.6" x2="1186.50" y2="422.5" stroke="#487f65" stroke-width="1"/>
<rect x="1185.05" y="404.2" width="2.9" height="14.3" fill="#87302c"/>
<rect x="1185.90" y="404.7" width="1.3" height="13.3" fill="#e8665b"/>
<line x1="1190.50" y1="407.8" x2="1190.50" y2="438.4" stroke="#487f65" stroke-width="1"/>
<rect x="1189.05" y="421.3" width="2.9" height="14.7" fill="#87302c"/>
<rect x="1189.90" y="421.8" width="1.3" height="13.7" fill="#e8665b"/>
<line x1="1194.50" y1="433.2" x2="1194.50" y2="455.0" stroke="#487f65" stroke-width="1"/>
<rect x="1193.05" y="438.1" width="2.9" height="16.6" fill="#87302c"/>
<rect x="1193.90" y="438.6" width="1.3" height="15.6" fill="#e8665b"/>
<line x1="1199.50" y1="452.5" x2="1199.50" y2="480.0" stroke="#487f65" stroke-width="1"/>
<rect x="1198.05" y="455.0" width="2.9" height="20.8" fill="#87302c"/>
<rect x="1198.90" y="455.5" width="1.3" height="19.8" fill="#e8665b"/>
<line x1="1203.50" y1="451.5" x2="1203.50" y2="479.4" stroke="#487f65" stroke-width="1"/>
<rect x="1202.05" y="466.0" width="2.9" height="12.8" fill="#0b663b"/>
<rect x="1202.90" y="466.5" width="1.3" height="11.8" fill="#1fa565"/>
<line x1="1207.50" y1="459.2" x2="1207.50" y2="480.0" stroke="#487f65" stroke-width="1"/>
<rect x="1206.05" y="468.7" width="2.9" height="8.6" fill="#87302c"/>
<rect x="1206.90" y="469.2" width="1.3" height="7.6" fill="#e8665b"/>
<line x1="1211.50" y1="472.3" x2="1211.50" y2="487.4" stroke="#487f65" stroke-width="1"/>
<rect x="1210.05" y="473.3" width="2.9" height="8.3" fill="#0b663b"/>
<rect x="1210.90" y="473.8" width="1.3" height="7.3" fill="#1fa565"/>
<line x1="1215.50" y1="454.3" x2="1215.50" y2="482.5" stroke="#487f65" stroke-width="1"/>
<rect x="1214.05" y="461.1" width="2.9" height="12.8" fill="#0b663b"/>
<rect x="1214.90" y="461.6" width="1.3" height="11.8" fill="#1fa565"/>
<line x1="1219.50" y1="461.1" x2="1219.50" y2="478.5" stroke="#487f65" stroke-width="1"/>
<rect x="1218.05" y="461.7" width="2.9" height="3.1" fill="#87302c"/>
<rect x="1218.90" y="462.2" width="1.3" height="2.1" fill="#e8665b"/>
<line x1="1223.50" y1="420.5" x2="1223.50" y2="468.4" stroke="#487f65" stroke-width="1"/>
<rect x="1222.05" y="421.9" width="2.9" height="44.7" fill="#0b663b"/>
<rect x="1222.90" y="422.4" width="1.3" height="43.7" fill="#1fa565"/>
<line x1="1228.50" y1="426.8" x2="1228.50" y2="491.1" stroke="#487f65" stroke-width="1"/>
<rect x="1227.05" y="427.1" width="2.9" height="42.0" fill="#87302c"/>
<rect x="1227.90" y="427.6" width="1.3" height="41.0" fill="#e8665b"/>
<line x1="1232.50" y1="449.1" x2="1232.50" y2="471.5" stroke="#487f65" stroke-width="1"/>
<rect x="1231.05" y="462.1" width="2.9" height="5.4" fill="#0b663b"/>
<rect x="1231.90" y="462.6" width="1.3" height="4.4" fill="#1fa565"/>
<line x1="1236.50" y1="450.7" x2="1236.50" y2="466.6" stroke="#487f65" stroke-width="1"/>
<rect x="1235.05" y="458.4" width="2.9" height="6.4" fill="#87302c"/>
<rect x="1235.90" y="458.9" width="1.3" height="5.4" fill="#e8665b"/>
<line x1="1240.50" y1="441.3" x2="1240.50" y2="470.6" stroke="#487f65" stroke-width="1"/>
<rect x="1239.05" y="443.0" width="2.9" height="21.8" fill="#0b663b"/>
<rect x="1239.90" y="443.5" width="1.3" height="20.8" fill="#1fa565"/>
<line x1="1244.50" y1="440.5" x2="1244.50" y2="465.7" stroke="#487f65" stroke-width="1"/>
<rect x="1243.05" y="442.1" width="2.9" height="17.5" fill="#87302c"/>
<rect x="1243.90" y="442.6" width="1.3" height="16.5" fill="#e8665b"/>
<line x1="1248.50" y1="438.8" x2="1248.50" y2="461.7" stroke="#487f65" stroke-width="1"/>
<rect x="1247.05" y="456.2" width="2.9" height="5.1" fill="#87302c"/>
<rect x="1247.90" y="456.7" width="1.3" height="4.1" fill="#e8665b"/>
<line x1="1252.50" y1="456.4" x2="1252.50" y2="483.7" stroke="#487f65" stroke-width="1"/>
<rect x="1251.05" y="458.0" width="2.9" height="23.9" fill="#87302c"/>
<rect x="1251.90" y="458.5" width="1.3" height="22.9" fill="#e8665b"/>
<line x1="1257.50" y1="469.4" x2="1257.50" y2="487.8" stroke="#487f65" stroke-width="1"/>
<rect x="1256.05" y="471.8" width="2.9" height="9.8" fill="#0b663b"/>
<rect x="1256.90" y="472.3" width="1.3" height="8.8" fill="#1fa565"/>
<line x1="1261.50" y1="444.6" x2="1261.50" y2="470.6" stroke="#487f65" stroke-width="1"/>
<rect x="1260.05" y="450.1" width="2.9" height="11.3" fill="#0b663b"/>
<rect x="1260.90" y="450.6" width="1.3" height="10.3" fill="#1fa565"/>
<line x1="1265.50" y1="435.4" x2="1265.50" y2="451.9" stroke="#487f65" stroke-width="1"/>
<rect x="1264.05" y="445.8" width="2.9" height="2.1" fill="#87302c"/>
<rect x="1264.90" y="446.3" width="1.3" height="1.1" fill="#e8665b"/>
<line x1="1269.50" y1="432.3" x2="1269.50" y2="453.1" stroke="#487f65" stroke-width="1"/>
<rect x="1268.05" y="443.8" width="2.9" height="1.0" fill="#0b663b"/>
<line x1="1273.50" y1="444.6" x2="1273.50" y2="460.8" stroke="#487f65" stroke-width="1"/>
<rect x="1272.05" y="444.9" width="2.9" height="6.1" fill="#87302c"/>
<rect x="1272.90" y="445.4" width="1.3" height="5.1" fill="#e8665b"/>
<line x1="1277.50" y1="447.4" x2="1277.50" y2="464.8" stroke="#487f65" stroke-width="1"/>
<rect x="1276.05" y="450.1" width="2.9" height="11.6" fill="#87302c"/>
<rect x="1276.90" y="450.6" width="1.3" height="10.6" fill="#e8665b"/>
<line x1="1281.50" y1="456.2" x2="1281.50" y2="476.4" stroke="#487f65" stroke-width="1"/>
<rect x="1280.05" y="456.8" width="2.9" height="19.0" fill="#87302c"/>
<rect x="1280.90" y="457.3" width="1.3" height="18.0" fill="#e8665b"/>
<line x1="1286.50" y1="467.8" x2="1286.50" y2="497.8" stroke="#487f65" stroke-width="1"/>
<rect x="1285.05" y="477.2" width="2.9" height="20.3" fill="#87302c"/>
<rect x="1285.90" y="477.7" width="1.3" height="19.3" fill="#e8665b"/>
<line x1="1290.50" y1="496.5" x2="1290.50" y2="519.3" stroke="#487f65" stroke-width="1"/>
<rect x="1289.05" y="499.2" width="2.9" height="15.7" fill="#87302c"/>
<rect x="1289.90" y="499.7" width="1.3" height="14.7" fill="#e8665b"/>
<line x1="1294.50" y1="503.5" x2="1294.50" y2="518.0" stroke="#487f65" stroke-width="1"/>
<rect x="1293.05" y="513.2" width="2.9" height="4.4" fill="#0b663b"/>
<rect x="1293.90" y="513.7" width="1.3" height="3.4" fill="#1fa565"/>
<line x1="1298.50" y1="498.8" x2="1298.50" y2="514.0" stroke="#487f65" stroke-width="1"/>
<rect x="1297.05" y="507.8" width="2.9" height="5.8" fill="#0b663b"/>
<rect x="1297.90" y="508.3" width="1.3" height="4.8" fill="#1fa565"/>
<line x1="1302.50" y1="501.5" x2="1302.50" y2="522.5" stroke="#487f65" stroke-width="1"/>
<rect x="1301.05" y="506.2" width="2.9" height="2.7" fill="#87302c"/>
<rect x="1301.90" y="506.7" width="1.3" height="1.7" fill="#e8665b"/>
<line x1="1306.50" y1="505.9" x2="1306.50" y2="523.6" stroke="#487f65" stroke-width="1"/>
<rect x="1305.05" y="517.2" width="2.9" height="2.7" fill="#87302c"/>
<rect x="1305.90" y="517.7" width="1.3" height="1.7" fill="#e8665b"/>
<line x1="1310.50" y1="514.2" x2="1310.50" y2="523.6" stroke="#487f65" stroke-width="1"/>
<rect x="1309.05" y="517.6" width="2.9" height="1.7" fill="#87302c"/>
<rect x="1309.90" y="518.1" width="1.3" height="0.7" fill="#e8665b"/>
<line x1="1315.50" y1="505.1" x2="1315.50" y2="538.4" stroke="#487f65" stroke-width="1"/>
<rect x="1314.05" y="521.2" width="2.9" height="8.8" fill="#87302c"/>
<rect x="1314.90" y="521.7" width="1.3" height="7.8" fill="#e8665b"/>
<line x1="1319.50" y1="532.3" x2="1319.50" y2="545.1" stroke="#487f65" stroke-width="1"/>
<rect x="1318.05" y="540.0" width="2.9" height="2.4" fill="#0b663b"/>
<rect x="1318.90" y="540.5" width="1.3" height="1.4" fill="#1fa565"/>
<line x1="1323.50" y1="539.4" x2="1323.50" y2="558.2" stroke="#487f65" stroke-width="1"/>
<rect x="1322.05" y="540.0" width="2.9" height="4.4" fill="#87302c"/>
<rect x="1322.90" y="540.5" width="1.3" height="3.4" fill="#e8665b"/>
<line x1="1327.50" y1="522.0" x2="1327.50" y2="543.7" stroke="#487f65" stroke-width="1"/>
<rect x="1326.05" y="522.9" width="2.9" height="20.5" fill="#0b663b"/>
<rect x="1326.90" y="523.4" width="1.3" height="19.5" fill="#1fa565"/>
<line x1="1331.50" y1="514.2" x2="1331.50" y2="529.0" stroke="#487f65" stroke-width="1"/>
<rect x="1330.05" y="521.2" width="2.9" height="2.1" fill="#87302c"/>
<rect x="1330.90" y="521.7" width="1.3" height="1.1" fill="#e8665b"/>
<line x1="1335.50" y1="527.9" x2="1335.50" y2="551.5" stroke="#487f65" stroke-width="1"/>
<rect x="1334.05" y="528.7" width="2.9" height="20.6" fill="#87302c"/>
<rect x="1334.90" y="529.2" width="1.3" height="19.6" fill="#e8665b"/>
<line x1="1339.50" y1="520.3" x2="1339.50" y2="551.5" stroke="#487f65" stroke-width="1"/>
<rect x="1338.05" y="529.0" width="2.9" height="17.7" fill="#0b663b"/>
<rect x="1338.90" y="529.5" width="1.3" height="16.7" fill="#1fa565"/>
<line x1="1344.50" y1="520.3" x2="1344.50" y2="531.9" stroke="#487f65" stroke-width="1"/>
<rect x="1343.05" y="528.3" width="2.9" height="3.4" fill="#87302c"/>
<rect x="1343.90" y="528.8" width="1.3" height="2.4" fill="#e8665b"/>
<line x1="1348.50" y1="507.8" x2="1348.50" y2="531.0" stroke="#487f65" stroke-width="1"/>
<rect x="1347.05" y="512.2" width="2.9" height="17.0" fill="#0b663b"/>
<rect x="1347.90" y="512.7" width="1.3" height="16.0" fill="#1fa565"/>
<line x1="1352.50" y1="499.8" x2="1352.50" y2="519.9" stroke="#487f65" stroke-width="1"/>
<rect x="1351.05" y="500.8" width="2.9" height="11.4" fill="#0b663b"/>
<rect x="1351.90" y="501.3" width="1.3" height="10.4" fill="#1fa565"/>
<line x1="1356.50" y1="494.1" x2="1356.50" y2="506.5" stroke="#487f65" stroke-width="1"/>
<rect x="1355.05" y="501.5" width="2.9" height="4.0" fill="#0b663b"/>
<rect x="1355.90" y="502.0" width="1.3" height="3.0" fill="#1fa565"/>
<line x1="1360.50" y1="501.1" x2="1360.50" y2="517.6" stroke="#487f65" stroke-width="1"/>
<rect x="1359.05" y="502.2" width="2.9" height="11.4" fill="#87302c"/>
<rect x="1359.90" y="502.7" width="1.3" height="10.4" fill="#e8665b"/>
<line x1="1364.50" y1="510.2" x2="1364.50" y2="518.0" stroke="#487f65" stroke-width="1"/>
<rect x="1363.05" y="515.6" width="2.9" height="2.0" fill="#87302c"/>
<rect x="1363.90" y="516.1" width="1.3" height="1.0" fill="#e8665b"/>
<line x1="1368.50" y1="505.1" x2="1368.50" y2="516.9" stroke="#487f65" stroke-width="1"/>
<rect x="1367.05" y="507.5" width="2.9" height="8.7" fill="#0b663b"/>
<rect x="1367.90" y="508.0" width="1.3" height="7.7" fill="#1fa565"/>
<line x1="1373.50" y1="496.5" x2="1373.50" y2="517.6" stroke="#487f65" stroke-width="1"/>
<rect x="1372.05" y="502.4" width="2.9" height="3.1" fill="#0b663b"/>
<rect x="1372.90" y="502.9" width="1.3" height="2.1" fill="#1fa565"/>
<line x1="1377.50" y1="482.3" x2="1377.50" y2="504.6" stroke="#487f65" stroke-width="1"/>
<rect x="1376.05" y="496.1" width="2.9" height="1.7" fill="#87302c"/>
<rect x="1376.90" y="496.6" width="1.3" height="0.7" fill="#e8665b"/>
<line x1="1381.50" y1="485.0" x2="1381.50" y2="499.5" stroke="#487f65" stroke-width="1"/>
<rect x="1380.05" y="488.5" width="2.9" height="10.3" fill="#0b663b"/>
<rect x="1380.90" y="489.0" width="1.3" height="9.3" fill="#1fa565"/>
<line x1="1385.50" y1="482.3" x2="1385.50" y2="492.1" stroke="#487f65" stroke-width="1"/>
<rect x="1384.05" y="485.4" width="2.9" height="4.7" fill="#87302c"/>
<rect x="1384.90" y="485.9" width="1.3" height="3.7" fill="#e8665b"/>
<line x1="1389.50" y1="482.3" x2="1389.50" y2="501.9" stroke="#487f65" stroke-width="1"/>
<rect x="1388.05" y="490.1" width="2.9" height="5.1" fill="#87302c"/>
<rect x="1388.90" y="490.6" width="1.3" height="4.1" fill="#e8665b"/>
<line x1="1393.50" y1="478.3" x2="1393.50" y2="507.8" stroke="#487f65" stroke-width="1"/>
<rect x="1392.05" y="492.5" width="2.9" height="13.9" fill="#87302c"/>
<rect x="1392.90" y="493.0" width="1.3" height="12.9" fill="#e8665b"/>
<line x1="1397.50" y1="502.4" x2="1397.50" y2="528.7" stroke="#487f65" stroke-width="1"/>
<rect x="1396.05" y="506.9" width="2.9" height="19.7" fill="#87302c"/>
<rect x="1396.90" y="507.4" width="1.3" height="18.7" fill="#e8665b"/>
<line x1="1402.50" y1="522.3" x2="1402.50" y2="528.3" stroke="#487f65" stroke-width="1"/>
<rect x="1401.05" y="525.6" width="2.9" height="2.0" fill="#87302c"/>
<rect x="1401.90" y="526.1" width="1.3" height="1.0" fill="#e8665b"/>
<line x1="1406.50" y1="527.0" x2="1406.50" y2="534.6" stroke="#487f65" stroke-width="1"/>
<rect x="1405.05" y="527.9" width="2.9" height="1.7" fill="#0b663b"/>
<rect x="1405.90" y="528.4" width="1.3" height="0.7" fill="#1fa565"/>
<line x1="1410.50" y1="518.0" x2="1410.50" y2="533.7" stroke="#487f65" stroke-width="1"/>
<rect x="1409.05" y="523.9" width="2.9" height="7.1" fill="#87302c"/>
<rect x="1409.90" y="524.4" width="1.3" height="6.1" fill="#e8665b"/>
<line x1="1414.50" y1="505.9" x2="1414.50" y2="531.9" stroke="#487f65" stroke-width="1"/>
<rect x="1413.05" y="509.1" width="2.9" height="22.5" fill="#0b663b"/>
<rect x="1413.90" y="509.6" width="1.3" height="21.5" fill="#1fa565"/>
<line x1="1418.50" y1="509.9" x2="1418.50" y2="527.0" stroke="#487f65" stroke-width="1"/>
<rect x="1417.05" y="510.2" width="2.9" height="16.4" fill="#87302c"/>
<rect x="1417.90" y="510.7" width="1.3" height="15.4" fill="#e8665b"/>
<line x1="1422.50" y1="526.3" x2="1422.50" y2="536.7" stroke="#487f65" stroke-width="1"/>
<rect x="1421.05" y="527.4" width="2.9" height="7.6" fill="#87302c"/>
<rect x="1421.90" y="527.9" width="1.3" height="6.6" fill="#e8665b"/>
<line x1="1426.50" y1="536.3" x2="1426.50" y2="548.8" stroke="#487f65" stroke-width="1"/>
<rect x="1425.05" y="540.0" width="2.9" height="8.4" fill="#87302c"/>
<rect x="1425.90" y="540.5" width="1.3" height="7.4" fill="#e8665b"/>
<line x1="1431.50" y1="537.3" x2="1431.50" y2="556.4" stroke="#487f65" stroke-width="1"/>
<rect x="1430.05" y="540.8" width="2.9" height="7.0" fill="#0b663b"/>
<rect x="1430.90" y="541.3" width="1.3" height="6.0" fill="#1fa565"/>
<line x1="1435.50" y1="534.1" x2="1435.50" y2="544.0" stroke="#487f65" stroke-width="1"/>
<rect x="1434.05" y="540.8" width="2.9" height="2.3" fill="#0b663b"/>
<rect x="1434.90" y="541.3" width="1.3" height="1.3" fill="#1fa565"/>
<line x1="1439.50" y1="539.4" x2="1439.50" y2="551.5" stroke="#487f65" stroke-width="1"/>
<rect x="1438.05" y="541.7" width="2.9" height="8.0" fill="#87302c"/>
<rect x="1438.90" y="542.2" width="1.3" height="7.0" fill="#e8665b"/>
<line x1="1443.50" y1="545.7" x2="1443.50" y2="567.6" stroke="#487f65" stroke-width="1"/>
<rect x="1442.05" y="546.1" width="2.9" height="6.3" fill="#87302c"/>
<rect x="1442.90" y="546.6" width="1.3" height="5.3" fill="#e8665b"/>
<line x1="1447.50" y1="544.4" x2="1447.50" y2="559.8" stroke="#487f65" stroke-width="1"/>
<rect x="1446.05" y="551.8" width="2.9" height="1.3" fill="#87302c"/>
<line x1="1451.50" y1="543.4" x2="1451.50" y2="552.0" stroke="#487f65" stroke-width="1"/>
<rect x="1450.05" y="547.5" width="2.9" height="3.6" fill="#0b663b"/>
<rect x="1450.90" y="548.0" width="1.3" height="2.6" fill="#1fa565"/>
<line x1="1455.50" y1="543.4" x2="1455.50" y2="559.1" stroke="#487f65" stroke-width="1"/>
<rect x="1454.05" y="546.7" width="2.9" height="12.1" fill="#87302c"/>
<rect x="1454.90" y="547.2" width="1.3" height="11.1" fill="#e8665b"/>
<line x1="1460.50" y1="555.0" x2="1460.50" y2="585.9" stroke="#487f65" stroke-width="1"/>
<rect x="1459.05" y="561.0" width="2.9" height="24.5" fill="#87302c"/>
<rect x="1459.90" y="561.5" width="1.3" height="23.5" fill="#e8665b"/>
<line x1="1464.50" y1="573.9" x2="1464.50" y2="602.2" stroke="#487f65" stroke-width="1"/>
<rect x="1463.05" y="587.4" width="2.9" height="1.4" fill="#87302c"/>
<line x1="1468.50" y1="583.2" x2="1468.50" y2="598.1" stroke="#487f65" stroke-width="1"/>
<rect x="1467.05" y="585.9" width="2.9" height="10.5" fill="#87302c"/>
<rect x="1467.90" y="586.4" width="1.3" height="9.5" fill="#e8665b"/>
<line x1="1472.50" y1="582.4" x2="1472.50" y2="599.0" stroke="#487f65" stroke-width="1"/>
<rect x="1471.05" y="586.4" width="2.9" height="11.1" fill="#0b663b"/>
<rect x="1471.90" y="586.9" width="1.3" height="10.1" fill="#1fa565"/>
<line x1="1476.50" y1="575.4" x2="1476.50" y2="588.5" stroke="#487f65" stroke-width="1"/>
<rect x="1475.05" y="581.2" width="2.9" height="4.7" fill="#0b663b"/>
<rect x="1475.90" y="581.7" width="1.3" height="3.7" fill="#1fa565"/>
<line x1="1480.50" y1="581.5" x2="1480.50" y2="589.7" stroke="#487f65" stroke-width="1"/>
<rect x="1479.05" y="582.7" width="2.9" height="3.1" fill="#87302c"/>
<rect x="1479.90" y="583.2" width="1.3" height="2.1" fill="#e8665b"/>
<line x1="1484.50" y1="574.6" x2="1484.50" y2="585.3" stroke="#487f65" stroke-width="1"/>
<rect x="1483.05" y="577.1" width="2.9" height="4.7" fill="#87302c"/>
<rect x="1483.90" y="577.6" width="1.3" height="3.7" fill="#e8665b"/>
<line x1="1489.50" y1="580.6" x2="1489.50" y2="590.5" stroke="#487f65" stroke-width="1"/>
<rect x="1488.05" y="585.3" width="2.9" height="1.7" fill="#87302c"/>
<rect x="1488.90" y="585.8" width="1.3" height="0.7" fill="#e8665b"/>
<line x1="1493.50" y1="583.5" x2="1493.50" y2="590.9" stroke="#487f65" stroke-width="1"/>
<rect x="1492.05" y="585.0" width="2.9" height="5.5" fill="#87302c"/>
<rect x="1492.90" y="585.5" width="1.3" height="4.5" fill="#e8665b"/>
<line x1="1497.50" y1="577.3" x2="1497.50" y2="593.4" stroke="#487f65" stroke-width="1"/>
<rect x="1496.05" y="582.7" width="2.9" height="6.6" fill="#0b663b"/>
<rect x="1496.90" y="583.2" width="1.3" height="5.6" fill="#1fa565"/>
<line x1="1501.50" y1="570.1" x2="1501.50" y2="581.2" stroke="#487f65" stroke-width="1"/>
<rect x="1500.05" y="580.2" width="2.9" height="1.0" fill="#0b663b"/>
<line x1="1505.50" y1="577.7" x2="1505.50" y2="588.5" stroke="#487f65" stroke-width="1"/>
<rect x="1504.05" y="578.0" width="2.9" height="10.1" fill="#87302c"/>
<rect x="1504.90" y="578.5" width="1.3" height="9.1" fill="#e8665b"/>
<line x1="1509.50" y1="569.0" x2="1509.50" y2="589.0" stroke="#487f65" stroke-width="1"/>
<rect x="1508.05" y="572.2" width="2.9" height="16.3" fill="#0b663b"/>
<rect x="1508.90" y="572.7" width="1.3" height="15.3" fill="#1fa565"/>
<line x1="1513.50" y1="563.7" x2="1513.50" y2="580.0" stroke="#487f65" stroke-width="1"/>
<rect x="1512.05" y="568.0" width="2.9" height="4.7" fill="#0b663b"/>
<rect x="1512.90" y="568.5" width="1.3" height="3.7" fill="#1fa565"/>
<line x1="1518.50" y1="550.1" x2="1518.50" y2="573.4" stroke="#487f65" stroke-width="1"/>
<rect x="1517.05" y="560.2" width="2.9" height="9.7" fill="#0b663b"/>
<rect x="1517.90" y="560.7" width="1.3" height="8.7" fill="#1fa565"/>
<line x1="1522.50" y1="544.2" x2="1522.50" y2="563.7" stroke="#487f65" stroke-width="1"/>
<rect x="1521.05" y="549.4" width="2.9" height="12.0" fill="#0b663b"/>
<rect x="1521.90" y="549.9" width="1.3" height="11.0" fill="#1fa565"/>
<line x1="1526.50" y1="531.7" x2="1526.50" y2="548.6" stroke="#487f65" stroke-width="1"/>
<rect x="1525.05" y="535.4" width="2.9" height="8.2" fill="#0b663b"/>
<rect x="1525.90" y="535.9" width="1.3" height="7.2" fill="#1fa565"/>
<line x1="1530.50" y1="541.6" x2="1530.50" y2="571.9" stroke="#487f65" stroke-width="1"/>
<rect x="1529.05" y="545.1" width="2.9" height="21.6" fill="#87302c"/>
<rect x="1529.90" y="545.6" width="1.3" height="20.6" fill="#e8665b"/>
<line x1="1534.50" y1="549.1" x2="1534.50" y2="568.4" stroke="#487f65" stroke-width="1"/>
<rect x="1533.05" y="551.2" width="2.9" height="15.4" fill="#0b663b"/>
<rect x="1533.90" y="551.7" width="1.3" height="14.4" fill="#1fa565"/>
<line x1="1538.50" y1="529.1" x2="1538.50" y2="551.5" stroke="#487f65" stroke-width="1"/>
<rect x="1537.05" y="534.0" width="2.9" height="5.2" fill="#87302c"/>
<rect x="1537.90" y="534.5" width="1.3" height="4.2" fill="#e8665b"/>
<line x1="1542.50" y1="534.9" x2="1542.50" y2="550.5" stroke="#487f65" stroke-width="1"/>
<rect x="1541.05" y="540.0" width="2.9" height="1.2" fill="#87302c"/>
<line x1="1547.50" y1="527.9" x2="1547.50" y2="542.4" stroke="#487f65" stroke-width="1"/>
<rect x="1546.05" y="534.2" width="2.9" height="7.3" fill="#0b663b"/>
<rect x="1546.90" y="534.7" width="1.3" height="6.3" fill="#1fa565"/>
<line x1="1551.50" y1="534.0" x2="1551.50" y2="545.9" stroke="#487f65" stroke-width="1"/>
<rect x="1550.05" y="538.9" width="2.9" height="1.5" fill="#87302c"/>
<line x1="1555.50" y1="539.2" x2="1555.50" y2="559.0" stroke="#487f65" stroke-width="1"/>
<rect x="1554.05" y="539.2" width="2.9" height="12.0" fill="#87302c"/>
<rect x="1554.90" y="539.7" width="1.3" height="11.0" fill="#e8665b"/>
<line x1="1559.50" y1="535.4" x2="1559.50" y2="547.7" stroke="#487f65" stroke-width="1"/>
<rect x="1558.05" y="540.0" width="2.9" height="7.0" fill="#0b663b"/>
<rect x="1558.90" y="540.5" width="1.3" height="6.0" fill="#1fa565"/>
<line x1="1563.50" y1="525.2" x2="1563.50" y2="543.3" stroke="#487f65" stroke-width="1"/>
<rect x="1562.05" y="527.2" width="2.9" height="15.2" fill="#0b663b"/>
<rect x="1562.90" y="527.7" width="1.3" height="14.2" fill="#1fa565"/>
</g>
<g id="channels" stroke="#1a9a7b" stroke-width="1.6" fill="none">
<line x1="1187.5" y1="402.6" x2="1584.6" y2="549.9"/>
<line x1="1188.3" y1="406.3" x2="1584.6" y2="552.8"/>
<line x1="1158.4" y1="476.7" x2="1551.2" y2="632.1"/>
<line x1="1154.1" y1="480.4" x2="1547" y2="634.75"/>
<line x1="1460.35" y1="609.8" x2="1617.5" y2="526.2"/>
<line x1="1464.3" y1="611.6" x2="1618" y2="528.4"/>
</g>
<line x1="1551" y1="445" x2="1874" y2="445" stroke="#8ad0da" stroke-width="1.3"/>
<line x1="1555.7" y1="445" x2="1555.7" y2="539.5" stroke="#1a9a7b" stroke-width="1.4"/>
<g id="arrows" stroke="#7a8fd3" stroke-width="2" fill="none" stroke-linecap="round" stroke-linejoin="round">
<polyline points="1567.9,527.7 1580.3,449.0"/>
<polyline points="1567.9,462.7 1580.3,449.0 1588.1,465.7"/>
<polyline points="1584.0,545.6 1601.1,449.4"/>
<polyline points="1588.1,465.7 1601.1,449.4 1608.5,466.8"/>
<polyline points="1567.9,528.5 1584.0,545.6"/>
<polyline points="1565.3,541.5 1584.0,545.6 1580.4,527.7"/>
</g>
<g font-size="11" fill="#6ea6dd" stroke="#6ea6dd" stroke-width="0.26">
<text x="1556.3" y="444.8" textLength="98.7" lengthAdjust="spacingAndGlyphs">Take Profit canal</text>
<text x="1324.6" y="446.9" textLength="76" lengthAdjust="spacingAndGlyphs">Canal bajista</text>
<text x="1564.5" y="574.2" textLength="221.8" lengthAdjust="spacingAndGlyphs">El canal ha sido roto y si se supera la</text>
<text x="1564.5" y="586.3" textLength="288.8" lengthAdjust="spacingAndGlyphs">resistencia, la rotura alcista podría llegar a 131$</text>
</g>
<g id="plabels" font-size="9.4" fill="#555555">
<line x1="1874.5" y1="40.0" x2="1877.3" y2="40.0" stroke="#5c5c5c" stroke-width="1.1"/>
<text x="1879.8" y="43.5">340.00</text>
<line x1="1874.5" y1="78.7" x2="1877.3" y2="78.7" stroke="#5c5c5c" stroke-width="1.1"/>
<text x="1879.8" y="82.2">320.00</text>
<line x1="1874.5" y1="117.5" x2="1877.3" y2="117.5" stroke="#5c5c5c" stroke-width="1.1"/>
<text x="1879.8" y="121.0">300.00</text>
<line x1="1874.5" y1="156.2" x2="1877.3" y2="156.2" stroke="#5c5c5c" stroke-width="1.1"/>
<text x="1879.8" y="159.7">280.00</text>
<line x1="1874.5" y1="194.9" x2="1877.3" y2="194.9" stroke="#5c5c5c" stroke-width="1.1"/>
<text x="1879.8" y="198.4">260.00</text>
<line x1="1874.5" y1="233.7" x2="1877.3" y2="233.7" stroke="#5c5c5c" stroke-width="1.1"/>
<text x="1879.8" y="237.2">240.00</text>
<line x1="1874.5" y1="272.4" x2="1877.3" y2="272.4" stroke="#5c5c5c" stroke-width="1.1"/>
<text x="1879.8" y="275.9">220.00</text>
<line x1="1874.5" y1="311.1" x2="1877.3" y2="311.1" stroke="#5c5c5c" stroke-width="1.1"/>
<text x="1879.8" y="314.6">200.00</text>
<line x1="1874.5" y1="349.9" x2="1877.3" y2="349.9" stroke="#5c5c5c" stroke-width="1.1"/>
<text x="1879.8" y="353.4">180.00</text>
<line x1="1874.5" y1="388.6" x2="1877.3" y2="388.6" stroke="#5c5c5c" stroke-width="1.1"/>
<text x="1879.8" y="392.1">160.00</text>
<line x1="1874.5" y1="427.3" x2="1877.3" y2="427.3" stroke="#5c5c5c" stroke-width="1.1"/>
<text x="1879.8" y="430.8">140.00</text>
<line x1="1874.5" y1="466.1" x2="1877.3" y2="466.1" stroke="#5c5c5c" stroke-width="1.1"/>
<text x="1879.8" y="469.6">120.00</text>
<line x1="1874.5" y1="504.8" x2="1877.3" y2="504.8" stroke="#5c5c5c" stroke-width="1.1"/>
<text x="1879.8" y="508.3">100.00</text>
<line x1="1874.5" y1="543.5" x2="1877.3" y2="543.5" stroke="#5c5c5c" stroke-width="1.1"/>
<text x="1879.8" y="547.0">80.00</text>
<line x1="1874.5" y1="582.2" x2="1877.3" y2="582.2" stroke="#5c5c5c" stroke-width="1.1"/>
<text x="1879.8" y="585.7">60.00</text>
<line x1="1874.5" y1="621.0" x2="1877.3" y2="621.0" stroke="#5c5c5c" stroke-width="1.1"/>
<text x="1879.8" y="624.5">40.00</text>
<line x1="1874.5" y1="659.7" x2="1877.3" y2="659.7" stroke="#5c5c5c" stroke-width="1.1"/>
<text x="1879.8" y="662.9">20.00</text>
</g>
<g id="rlabels" font-size="9.4" fill="#555555">
<line x1="1874.5" y1="671.5" x2="1877.3" y2="671.5" stroke="#5c5c5c" stroke-width="1.1"/>
<text x="1879.8" y="674.9">90.0000</text>
<line x1="1874.5" y1="696.2" x2="1877.3" y2="696.2" stroke="#5c5c5c" stroke-width="1.1"/>
<text x="1879.8" y="699.5">80.0000</text>
<line x1="1874.5" y1="720.8" x2="1877.3" y2="720.8" stroke="#5c5c5c" stroke-width="1.1"/>
<text x="1879.8" y="724.1">70.0000</text>
<line x1="1874.5" y1="770.0" x2="1877.3" y2="770.0" stroke="#5c5c5c" stroke-width="1.1"/>
<text x="1879.8" y="773.4">50.0000</text>
<line x1="1874.5" y1="794.7" x2="1877.3" y2="794.7" stroke="#5c5c5c" stroke-width="1.1"/>
<text x="1879.8" y="798.0">40.0000</text>
<line x1="1874.5" y1="819.3" x2="1877.3" y2="819.3" stroke="#5c5c5c" stroke-width="1.1"/>
<text x="1879.8" y="822.6">30.0000</text>
</g>
<rect x="1874" y="439" width="38" height="13" fill="#86cdd9"/>
<text x="1880" y="448.4" font-size="9.4" fill="#000">130.82</text>
<rect x="1874" y="521.3" width="33" height="13.4" fill="#4a6fe3"/>
<text x="1880" y="531.0" font-size="9.4" fill="#fff">88.10</text>
<rect x="1874" y="741" width="42.8" height="12.8" fill="#800080"/>
<text x="1880" y="750.8" font-size="9.4" fill="#fff">59.4041</text>
<line x1="1874.5" y1="24" x2="1874.5" y2="840.8" stroke="#7c7c7c" stroke-width="1.25"/>
<line x1="3.5" y1="840.2" x2="1875" y2="840.2" stroke="#7c7c7c" stroke-width="1.3"/>
<line x1="3.5" y1="664.9" x2="1917" y2="664.9" stroke="#989898" stroke-width="1.6"/>
<line x1="1875" y1="445" x2="1877.6" y2="445" stroke="#4f8f9a" stroke-width="1"/>
<line x1="1875" y1="527.5" x2="1877.6" y2="527.5" stroke="#b9c6f6" stroke-width="1"/>
<line x1="1875" y1="747.0" x2="1877.6" y2="747.0" stroke="#d9a6d9" stroke-width="1"/>
<g id="xlabels" font-size="9.4" fill="#555555" text-anchor="middle">
<line x1="40" y1="840.3" x2="40" y2="843.0" stroke="#5c5c5c" stroke-width="1.2"/>
<text x="39.5" y="852.1">Sep</text>
<line x1="114.5" y1="840.3" x2="114.5" y2="843.0" stroke="#5c5c5c" stroke-width="1.2"/>
<text x="114.0" y="852.1" font-weight="bold" fill="#4a4a4a">2019</text>
<line x1="185.25" y1="840.3" x2="185.25" y2="843.0" stroke="#5c5c5c" stroke-width="1.2"/>
<text x="184.75" y="852.1">May</text>
<line x1="255.25" y1="840.3" x2="255.25" y2="843.0" stroke="#5c5c5c" stroke-width="1.2"/>
<text x="254.75" y="852.1">Sep</text>
<line x1="330" y1="840.3" x2="330" y2="843.0" stroke="#5c5c5c" stroke-width="1.2"/>
<text x="329.5" y="852.1" font-weight="bold" fill="#4a4a4a">2020</text>
<line x1="400.5" y1="840.3" x2="400.5" y2="843.0" stroke="#5c5c5c" stroke-width="1.2"/>
<text x="400.0" y="852.1">May</text>
<line x1="475" y1="840.3" x2="475" y2="843.0" stroke="#5c5c5c" stroke-width="1.2"/>
<text x="474.5" y="852.1">Sep</text>
<line x1="545.25" y1="840.3" x2="545.25" y2="843.0" stroke="#5c5c5c" stroke-width="1.2"/>
<text x="544.75" y="852.1" font-weight="bold" fill="#4a4a4a">2021</text>
<line x1="615.5" y1="840.3" x2="615.5" y2="843.0" stroke="#5c5c5c" stroke-width="1.2"/>
<text x="615.0" y="852.1">May</text>
<line x1="690.5" y1="840.3" x2="690.5" y2="843.0" stroke="#5c5c5c" stroke-width="1.2"/>
<text x="690.0" y="852.1">Sep</text>
<line x1="760.75" y1="840.3" x2="760.75" y2="843.0" stroke="#5c5c5c" stroke-width="1.2"/>
<text x="760.25" y="852.1" font-weight="bold" fill="#4a4a4a">2022</text>
<line x1="831.75" y1="840.3" x2="831.75" y2="843.0" stroke="#5c5c5c" stroke-width="1.2"/>
<text x="831.25" y="852.1">May</text>
<line x1="906.4" y1="840.3" x2="906.4" y2="843.0" stroke="#5c5c5c" stroke-width="1.2"/>
<text x="905.9" y="852.1">Sep</text>
<line x1="976.75" y1="840.3" x2="976.75" y2="843.0" stroke="#5c5c5c" stroke-width="1.2"/>
<text x="976.25" y="852.1" font-weight="bold" fill="#4a4a4a">2023</text>
<line x1="1047.5" y1="840.3" x2="1047.5" y2="843.0" stroke="#5c5c5c" stroke-width="1.2"/>
<text x="1047.0" y="852.1">May</text>
<line x1="1122" y1="840.3" x2="1122" y2="843.0" stroke="#5c5c5c" stroke-width="1.2"/>
<text x="1121.5" y="852.1">Sep</text>
<line x1="1192.5" y1="840.3" x2="1192.5" y2="843.0" stroke="#5c5c5c" stroke-width="1.2"/>
<text x="1192.0" y="852.1" font-weight="bold" fill="#4a4a4a">2024</text>
<line x1="1266.75" y1="840.3" x2="1266.75" y2="843.0" stroke="#5c5c5c" stroke-width="1.2"/>
<text x="1266.25" y="852.1">May</text>
<line x1="1337.5" y1="840.3" x2="1337.5" y2="843.0" stroke="#5c5c5c" stroke-width="1.2"/>
<text x="1337.0" y="852.1">Sep</text>
<line x1="1411.75" y1="840.3" x2="1411.75" y2="843.0" stroke="#5c5c5c" stroke-width="1.2"/>
<text x="1411.25" y="852.1" font-weight="bold" fill="#4a4a4a">2025</text>
<line x1="1482" y1="840.3" x2="1482" y2="843.0" stroke="#5c5c5c" stroke-width="1.2"/>
<text x="1481.5" y="852.1">May</text>
<line x1="1552.5" y1="840.3" x2="1552.5" y2="843.0" stroke="#5c5c5c" stroke-width="1.2"/>
<text x="1552.0" y="852.1">Sep</text>
<line x1="1627" y1="840.3" x2="1627" y2="843.0" stroke="#5c5c5c" stroke-width="1.2"/>
<text x="1626.5" y="852.1" font-weight="bold" fill="#4a4a4a">2026</text>
<line x1="1697.5" y1="840.3" x2="1697.5" y2="843.0" stroke="#5c5c5c" stroke-width="1.2"/>
<text x="1697.0" y="852.1">May</text>
<line x1="1772" y1="840.3" x2="1772" y2="843.0" stroke="#5c5c5c" stroke-width="1.2"/>
<text x="1771.5" y="852.1">Sep</text>
<line x1="1842.5" y1="840.3" x2="1842.5" y2="843.0" stroke="#5c5c5c" stroke-width="1.2"/>
<text x="1842.0" y="852.1" font-weight="bold" fill="#4a4a4a">2027</text>
</g>
<text x="6.8" y="9.1" font-size="5.85" fill="#1a1a1a" textLength="210.5" lengthAdjust="spacingAndGlyphs">Published on Investing.com, 28/Sep/2025 - 17:46:32 GMT, Powered by TradingView.</text>
<text x="6.3" y="19" font-size="5.85" font-weight="bold" fill="#000" textLength="121.5" lengthAdjust="spacingAndGlyphs">Albemarle Corp, United States, NYSE:ALB, W</text>
<text x="7.8" y="674" font-size="5.85" fill="#1a1a1a" textLength="146.3" lengthAdjust="spacingAndGlyphs">Índice de fuerza relativa (RSI por sus siglas en inglés) (14)</text>
<text x="14.6" y="650.6" font-size="18" font-weight="bold" fill="#0a0a0a" stroke="#0a0a0a" stroke-width="0.3" textLength="75.6" lengthAdjust="spacing">Investıng</text>
<text x="90.6" y="650.6" font-size="13.4" fill="#5a5a5a" textLength="25.6" lengthAdjust="spacing">.com</text>
<ellipse cx="67.1" cy="638.3" rx="2.4" ry="1.5" fill="#ffa31a" transform="rotate(-42 67.1 638.3)"/>
</svg>
</body></html>
